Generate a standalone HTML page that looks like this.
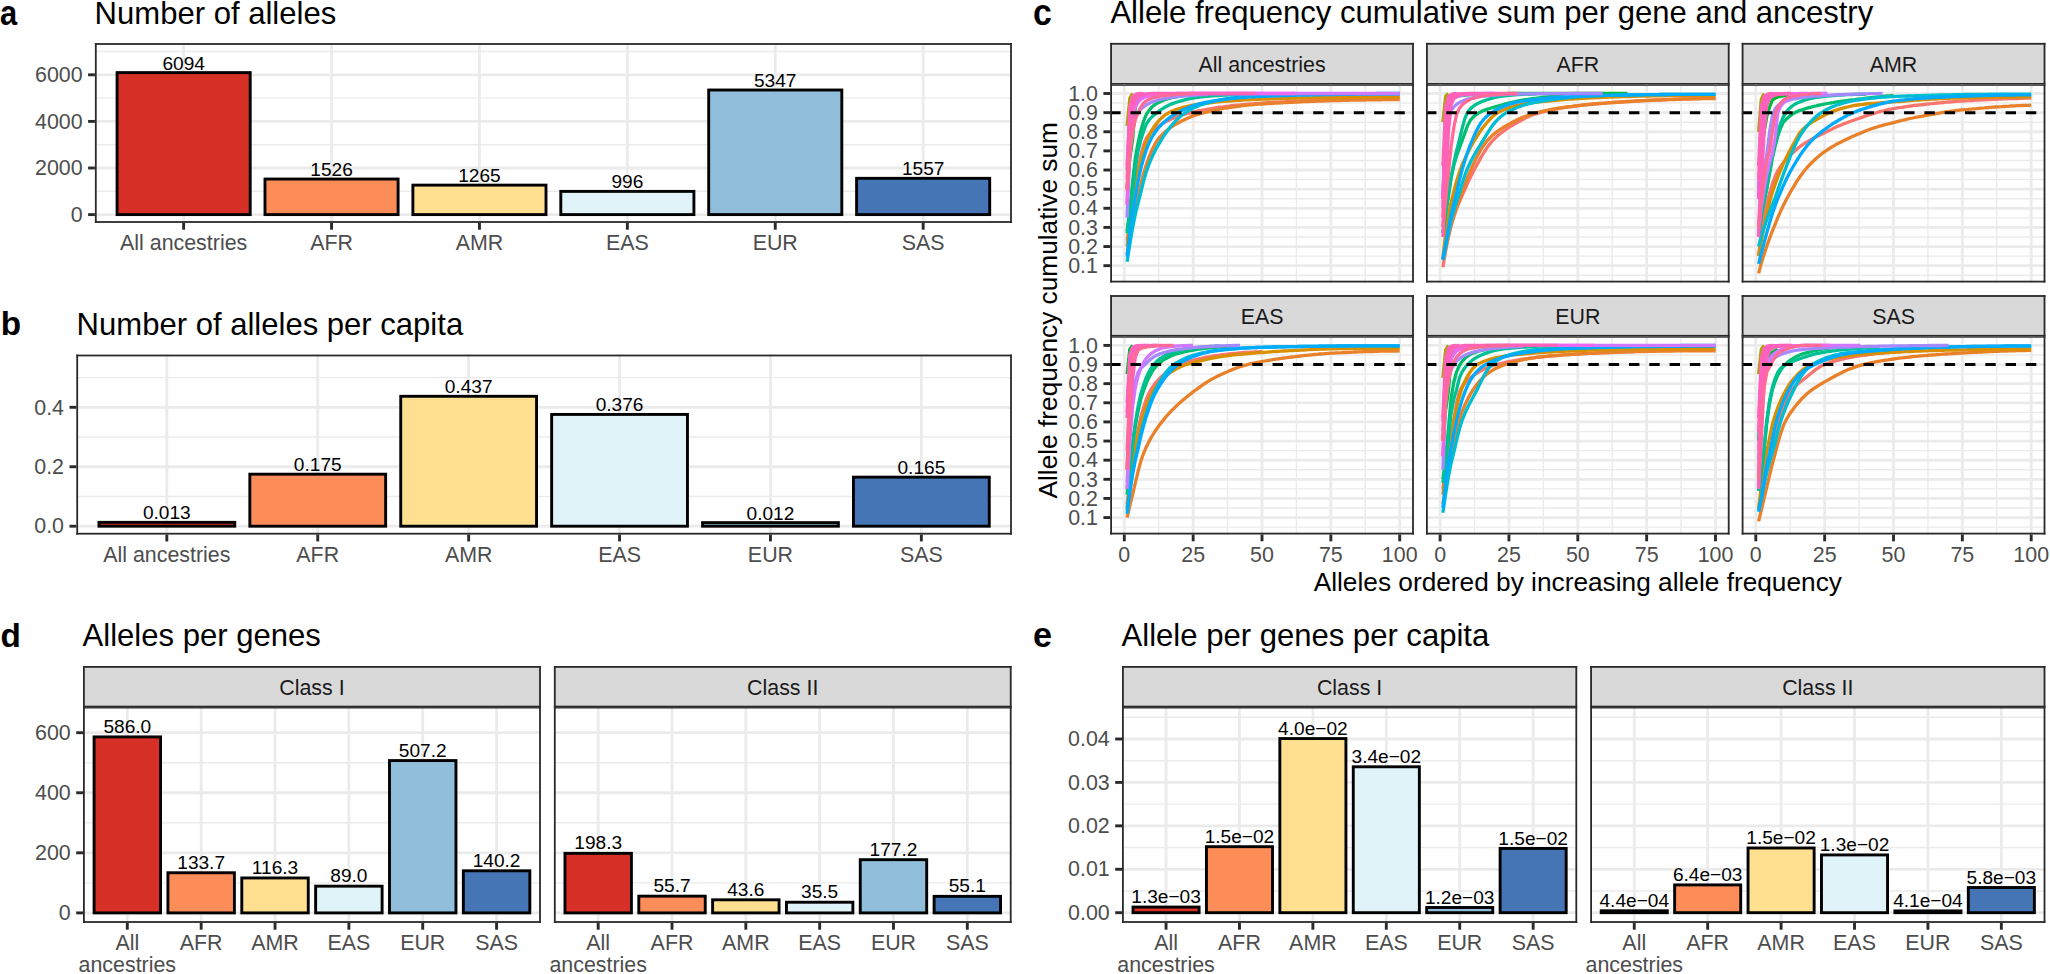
<!DOCTYPE html>
<html lang="en"><head><meta charset="utf-8"><title>HLA allele diversity per ancestry</title>
<style>html,body{margin:0;padding:0;background:#fff}body{width:2050px;height:974px;overflow:hidden}svg{display:block}text{white-space:pre}</style>
</head><body>
<svg width="2050" height="974" viewBox="0 0 2050 974" font-family='"Liberation Sans", Arial, Helvetica, sans-serif'>
<rect width="2050" height="974" fill="#fff"/>
<text transform="translate(0,24.6) scale(0.858,1)" font-size="36" font-weight="bold" fill="#000">a</text>
<text x="94.6" y="24" font-size="31.05" fill="#000" text-anchor="start">Number of alleles</text>
<line x1="94.9" y1="191.3" x2="1011.9" y2="191.3" stroke="#ebebeb" stroke-width="1.4"/>
<line x1="94.9" y1="144.7" x2="1011.9" y2="144.7" stroke="#ebebeb" stroke-width="1.4"/>
<line x1="94.9" y1="98.1" x2="1011.9" y2="98.1" stroke="#ebebeb" stroke-width="1.4"/>
<line x1="94.9" y1="51.5" x2="1011.9" y2="51.5" stroke="#ebebeb" stroke-width="1.4"/>
<line x1="94.9" y1="214.6" x2="1011.9" y2="214.6" stroke="#ebebeb" stroke-width="2.8"/>
<line x1="94.9" y1="168" x2="1011.9" y2="168" stroke="#ebebeb" stroke-width="2.8"/>
<line x1="94.9" y1="121.4" x2="1011.9" y2="121.4" stroke="#ebebeb" stroke-width="2.8"/>
<line x1="94.9" y1="74.8" x2="1011.9" y2="74.8" stroke="#ebebeb" stroke-width="2.8"/>
<line x1="183.64" y1="43.1" x2="183.64" y2="222.9" stroke="#ebebeb" stroke-width="2.8"/>
<line x1="331.55" y1="43.1" x2="331.55" y2="222.9" stroke="#ebebeb" stroke-width="2.8"/>
<line x1="479.45" y1="43.1" x2="479.45" y2="222.9" stroke="#ebebeb" stroke-width="2.8"/>
<line x1="627.35" y1="43.1" x2="627.35" y2="222.9" stroke="#ebebeb" stroke-width="2.8"/>
<line x1="775.25" y1="43.1" x2="775.25" y2="222.9" stroke="#ebebeb" stroke-width="2.8"/>
<line x1="923.16" y1="43.1" x2="923.16" y2="222.9" stroke="#ebebeb" stroke-width="2.8"/>
<rect x="117.09" y="72.61" width="133.11" height="141.99" fill="#d73027" stroke="#000" stroke-width="2.9"/>
<rect x="264.99" y="179.04" width="133.11" height="35.56" fill="#fc8d59" stroke="#000" stroke-width="2.9"/>
<rect x="412.89" y="185.13" width="133.11" height="29.47" fill="#fee090" stroke="#000" stroke-width="2.9"/>
<rect x="560.8" y="191.39" width="133.11" height="23.21" fill="#e0f3f8" stroke="#000" stroke-width="2.9"/>
<rect x="708.7" y="90.01" width="133.11" height="124.59" fill="#91bfdb" stroke="#000" stroke-width="2.9"/>
<rect x="856.6" y="178.32" width="133.11" height="36.28" fill="#4575b4" stroke="#000" stroke-width="2.9"/>
<text x="183.64" y="69.61" font-size="19.1" fill="#000" text-anchor="middle">6094</text>
<text x="331.55" y="176.04" font-size="19.1" fill="#000" text-anchor="middle">1526</text>
<text x="479.45" y="182.13" font-size="19.1" fill="#000" text-anchor="middle">1265</text>
<text x="627.35" y="188.39" font-size="19.1" fill="#000" text-anchor="middle">996</text>
<text x="775.25" y="87.01" font-size="19.1" fill="#000" text-anchor="middle">5347</text>
<text x="923.16" y="175.32" font-size="19.1" fill="#000" text-anchor="middle">1557</text>
<rect x="94.9" y="43.1" width="917" height="1.8" fill="#2a2a2a"/>
<rect x="94.9" y="221.1" width="917" height="1.8" fill="#2a2a2a"/>
<rect x="94.9" y="43.1" width="1.8" height="179.8" fill="#2a2a2a"/>
<rect x="1010.1" y="43.1" width="1.8" height="179.8" fill="#2a2a2a"/>
<line x1="88.1" y1="214.6" x2="94.9" y2="214.6" stroke="#2a2a2a" stroke-width="2.9"/>
<text x="82.6" y="221.8" font-size="21.4" fill="#4d4d4d" text-anchor="end">0</text>
<line x1="88.1" y1="168" x2="94.9" y2="168" stroke="#2a2a2a" stroke-width="2.9"/>
<text x="82.6" y="175.2" font-size="21.4" fill="#4d4d4d" text-anchor="end">2000</text>
<line x1="88.1" y1="121.4" x2="94.9" y2="121.4" stroke="#2a2a2a" stroke-width="2.9"/>
<text x="82.6" y="128.6" font-size="21.4" fill="#4d4d4d" text-anchor="end">4000</text>
<line x1="88.1" y1="74.8" x2="94.9" y2="74.8" stroke="#2a2a2a" stroke-width="2.9"/>
<text x="82.6" y="82" font-size="21.4" fill="#4d4d4d" text-anchor="end">6000</text>
<line x1="183.64" y1="222.9" x2="183.64" y2="229.7" stroke="#2a2a2a" stroke-width="2.9"/>
<text x="183.64" y="250.2" font-size="21.4" fill="#4d4d4d" text-anchor="middle">All ancestries</text>
<line x1="331.55" y1="222.9" x2="331.55" y2="229.7" stroke="#2a2a2a" stroke-width="2.9"/>
<text x="331.55" y="250.2" font-size="21.4" fill="#4d4d4d" text-anchor="middle">AFR</text>
<line x1="479.45" y1="222.9" x2="479.45" y2="229.7" stroke="#2a2a2a" stroke-width="2.9"/>
<text x="479.45" y="250.2" font-size="21.4" fill="#4d4d4d" text-anchor="middle">AMR</text>
<line x1="627.35" y1="222.9" x2="627.35" y2="229.7" stroke="#2a2a2a" stroke-width="2.9"/>
<text x="627.35" y="250.2" font-size="21.4" fill="#4d4d4d" text-anchor="middle">EAS</text>
<line x1="775.25" y1="222.9" x2="775.25" y2="229.7" stroke="#2a2a2a" stroke-width="2.9"/>
<text x="775.25" y="250.2" font-size="21.4" fill="#4d4d4d" text-anchor="middle">EUR</text>
<line x1="923.16" y1="222.9" x2="923.16" y2="229.7" stroke="#2a2a2a" stroke-width="2.9"/>
<text x="923.16" y="250.2" font-size="21.4" fill="#4d4d4d" text-anchor="middle">SAS</text>
<text x="0.8" y="335.1" font-size="33.3" font-weight="bold" fill="#000">b</text>
<text x="76.6" y="334.8" font-size="31.05" fill="#000" text-anchor="start">Number of alleles per capita</text>
<line x1="76.3" y1="496.48" x2="1011.9" y2="496.48" stroke="#ebebeb" stroke-width="1.4"/>
<line x1="76.3" y1="437.03" x2="1011.9" y2="437.03" stroke="#ebebeb" stroke-width="1.4"/>
<line x1="76.3" y1="377.58" x2="1011.9" y2="377.58" stroke="#ebebeb" stroke-width="1.4"/>
<line x1="76.3" y1="526.2" x2="1011.9" y2="526.2" stroke="#ebebeb" stroke-width="2.8"/>
<line x1="76.3" y1="466.75" x2="1011.9" y2="466.75" stroke="#ebebeb" stroke-width="2.8"/>
<line x1="76.3" y1="407.3" x2="1011.9" y2="407.3" stroke="#ebebeb" stroke-width="2.8"/>
<line x1="166.84" y1="354.6" x2="166.84" y2="534.6" stroke="#ebebeb" stroke-width="2.8"/>
<line x1="317.75" y1="354.6" x2="317.75" y2="534.6" stroke="#ebebeb" stroke-width="2.8"/>
<line x1="468.65" y1="354.6" x2="468.65" y2="534.6" stroke="#ebebeb" stroke-width="2.8"/>
<line x1="619.55" y1="354.6" x2="619.55" y2="534.6" stroke="#ebebeb" stroke-width="2.8"/>
<line x1="770.45" y1="354.6" x2="770.45" y2="534.6" stroke="#ebebeb" stroke-width="2.8"/>
<line x1="921.36" y1="354.6" x2="921.36" y2="534.6" stroke="#ebebeb" stroke-width="2.8"/>
<rect x="98.94" y="522.34" width="135.81" height="3.86" fill="#d73027" stroke="#000" stroke-width="2.9"/>
<rect x="249.84" y="474.18" width="135.81" height="52.02" fill="#fc8d59" stroke="#000" stroke-width="2.9"/>
<rect x="400.74" y="396.3" width="135.81" height="129.9" fill="#fee090" stroke="#000" stroke-width="2.9"/>
<rect x="551.65" y="414.43" width="135.81" height="111.77" fill="#e0f3f8" stroke="#000" stroke-width="2.9"/>
<rect x="702.55" y="522.63" width="135.81" height="3.57" fill="#91bfdb" stroke="#000" stroke-width="2.9"/>
<rect x="853.45" y="477.15" width="135.81" height="49.05" fill="#4575b4" stroke="#000" stroke-width="2.9"/>
<text x="166.84" y="519.34" font-size="19.1" fill="#000" text-anchor="middle">0.013</text>
<text x="317.75" y="471.18" font-size="19.1" fill="#000" text-anchor="middle">0.175</text>
<text x="468.65" y="393.3" font-size="19.1" fill="#000" text-anchor="middle">0.437</text>
<text x="619.55" y="411.43" font-size="19.1" fill="#000" text-anchor="middle">0.376</text>
<text x="770.45" y="519.63" font-size="19.1" fill="#000" text-anchor="middle">0.012</text>
<text x="921.36" y="474.15" font-size="19.1" fill="#000" text-anchor="middle">0.165</text>
<rect x="76.3" y="354.6" width="935.6" height="1.8" fill="#2a2a2a"/>
<rect x="76.3" y="532.8" width="935.6" height="1.8" fill="#2a2a2a"/>
<rect x="76.3" y="354.6" width="1.8" height="180" fill="#2a2a2a"/>
<rect x="1010.1" y="354.6" width="1.8" height="180" fill="#2a2a2a"/>
<line x1="69.5" y1="526.2" x2="76.3" y2="526.2" stroke="#2a2a2a" stroke-width="2.9"/>
<text x="64" y="533.4" font-size="21.4" fill="#4d4d4d" text-anchor="end">0.0</text>
<line x1="69.5" y1="466.75" x2="76.3" y2="466.75" stroke="#2a2a2a" stroke-width="2.9"/>
<text x="64" y="473.95" font-size="21.4" fill="#4d4d4d" text-anchor="end">0.2</text>
<line x1="69.5" y1="407.3" x2="76.3" y2="407.3" stroke="#2a2a2a" stroke-width="2.9"/>
<text x="64" y="414.5" font-size="21.4" fill="#4d4d4d" text-anchor="end">0.4</text>
<line x1="166.84" y1="534.6" x2="166.84" y2="541.4" stroke="#2a2a2a" stroke-width="2.9"/>
<text x="166.84" y="561.9" font-size="21.4" fill="#4d4d4d" text-anchor="middle">All ancestries</text>
<line x1="317.75" y1="534.6" x2="317.75" y2="541.4" stroke="#2a2a2a" stroke-width="2.9"/>
<text x="317.75" y="561.9" font-size="21.4" fill="#4d4d4d" text-anchor="middle">AFR</text>
<line x1="468.65" y1="534.6" x2="468.65" y2="541.4" stroke="#2a2a2a" stroke-width="2.9"/>
<text x="468.65" y="561.9" font-size="21.4" fill="#4d4d4d" text-anchor="middle">AMR</text>
<line x1="619.55" y1="534.6" x2="619.55" y2="541.4" stroke="#2a2a2a" stroke-width="2.9"/>
<text x="619.55" y="561.9" font-size="21.4" fill="#4d4d4d" text-anchor="middle">EAS</text>
<line x1="770.45" y1="534.6" x2="770.45" y2="541.4" stroke="#2a2a2a" stroke-width="2.9"/>
<text x="770.45" y="561.9" font-size="21.4" fill="#4d4d4d" text-anchor="middle">EUR</text>
<line x1="921.36" y1="534.6" x2="921.36" y2="541.4" stroke="#2a2a2a" stroke-width="2.9"/>
<text x="921.36" y="561.9" font-size="21.4" fill="#4d4d4d" text-anchor="middle">SAS</text>
<text x="0.6" y="646.8" font-size="33.3" font-weight="bold" fill="#000">d</text>
<text x="82.6" y="645.5" font-size="31.05" fill="#000" text-anchor="start">Alleles per genes</text>
<rect x="83" y="666" width="457.9" height="41.1" fill="#d9d9d9"/>
<rect x="83" y="666" width="457.9" height="1.8" fill="#2a2a2a"/>
<rect x="83" y="705.7" width="457.9" height="1.4" fill="#2a2a2a"/>
<rect x="83" y="666" width="1.8" height="41.1" fill="#2a2a2a"/>
<rect x="539.1" y="666" width="1.8" height="41.1" fill="#2a2a2a"/>
<text x="311.95" y="694.75" font-size="21.4" fill="#1a1a1a" text-anchor="middle">Class I</text>
<rect x="553.9" y="666" width="457.7" height="41.1" fill="#d9d9d9"/>
<rect x="553.9" y="666" width="457.7" height="1.8" fill="#2a2a2a"/>
<rect x="553.9" y="705.7" width="457.7" height="1.4" fill="#2a2a2a"/>
<rect x="553.9" y="666" width="1.8" height="41.1" fill="#2a2a2a"/>
<rect x="1009.8" y="666" width="1.8" height="41.1" fill="#2a2a2a"/>
<text x="782.75" y="694.75" font-size="21.4" fill="#1a1a1a" text-anchor="middle">Class II</text>
<line x1="83" y1="882.87" x2="540.9" y2="882.87" stroke="#ebebeb" stroke-width="1.4"/>
<line x1="83" y1="822.8" x2="540.9" y2="822.8" stroke="#ebebeb" stroke-width="1.4"/>
<line x1="83" y1="762.73" x2="540.9" y2="762.73" stroke="#ebebeb" stroke-width="1.4"/>
<line x1="83" y1="912.9" x2="540.9" y2="912.9" stroke="#ebebeb" stroke-width="2.8"/>
<line x1="83" y1="852.83" x2="540.9" y2="852.83" stroke="#ebebeb" stroke-width="2.8"/>
<line x1="83" y1="792.77" x2="540.9" y2="792.77" stroke="#ebebeb" stroke-width="2.8"/>
<line x1="83" y1="732.7" x2="540.9" y2="732.7" stroke="#ebebeb" stroke-width="2.8"/>
<line x1="127.31" y1="707.1" x2="127.31" y2="922.9" stroke="#ebebeb" stroke-width="2.8"/>
<line x1="201.17" y1="707.1" x2="201.17" y2="922.9" stroke="#ebebeb" stroke-width="2.8"/>
<line x1="275.02" y1="707.1" x2="275.02" y2="922.9" stroke="#ebebeb" stroke-width="2.8"/>
<line x1="348.88" y1="707.1" x2="348.88" y2="922.9" stroke="#ebebeb" stroke-width="2.8"/>
<line x1="422.73" y1="707.1" x2="422.73" y2="922.9" stroke="#ebebeb" stroke-width="2.8"/>
<line x1="496.59" y1="707.1" x2="496.59" y2="922.9" stroke="#ebebeb" stroke-width="2.8"/>
<rect x="94.08" y="736.9" width="66.47" height="176" fill="#d73027" stroke="#000" stroke-width="2.9"/>
<rect x="167.93" y="872.75" width="66.47" height="40.15" fill="#fc8d59" stroke="#000" stroke-width="2.9"/>
<rect x="241.79" y="877.97" width="66.47" height="34.93" fill="#fee090" stroke="#000" stroke-width="2.9"/>
<rect x="315.64" y="886.17" width="66.47" height="26.73" fill="#e0f3f8" stroke="#000" stroke-width="2.9"/>
<rect x="389.5" y="760.57" width="66.47" height="152.33" fill="#91bfdb" stroke="#000" stroke-width="2.9"/>
<rect x="463.35" y="870.79" width="66.47" height="42.11" fill="#4575b4" stroke="#000" stroke-width="2.9"/>
<text x="127.31" y="733" font-size="19.1" fill="#000" text-anchor="middle">586.0</text>
<text x="201.17" y="868.85" font-size="19.1" fill="#000" text-anchor="middle">133.7</text>
<text x="275.02" y="874.07" font-size="19.1" fill="#000" text-anchor="middle">116.3</text>
<text x="348.88" y="882.27" font-size="19.1" fill="#000" text-anchor="middle">89.0</text>
<text x="422.73" y="756.67" font-size="19.1" fill="#000" text-anchor="middle">507.2</text>
<text x="496.59" y="866.89" font-size="19.1" fill="#000" text-anchor="middle">140.2</text>
<rect x="83" y="707.1" width="457.9" height="1.4" fill="#2a2a2a"/>
<rect x="83" y="921.1" width="457.9" height="1.8" fill="#2a2a2a"/>
<rect x="83" y="707.1" width="1.8" height="215.8" fill="#2a2a2a"/>
<rect x="539.1" y="707.1" width="1.8" height="215.8" fill="#2a2a2a"/>
<line x1="76.2" y1="912.9" x2="83" y2="912.9" stroke="#2a2a2a" stroke-width="2.9"/>
<text x="70.7" y="920.1" font-size="21.4" fill="#4d4d4d" text-anchor="end">0</text>
<line x1="76.2" y1="852.83" x2="83" y2="852.83" stroke="#2a2a2a" stroke-width="2.9"/>
<text x="70.7" y="860.03" font-size="21.4" fill="#4d4d4d" text-anchor="end">200</text>
<line x1="76.2" y1="792.77" x2="83" y2="792.77" stroke="#2a2a2a" stroke-width="2.9"/>
<text x="70.7" y="799.97" font-size="21.4" fill="#4d4d4d" text-anchor="end">400</text>
<line x1="76.2" y1="732.7" x2="83" y2="732.7" stroke="#2a2a2a" stroke-width="2.9"/>
<text x="70.7" y="739.9" font-size="21.4" fill="#4d4d4d" text-anchor="end">600</text>
<line x1="127.31" y1="922.9" x2="127.31" y2="929.7" stroke="#2a2a2a" stroke-width="2.9"/>
<text x="127.31" y="950.2" font-size="21.4" fill="#4d4d4d" text-anchor="middle">All</text>
<text x="127.31" y="972.4" font-size="21.4" fill="#4d4d4d" text-anchor="middle">ancestries</text>
<line x1="201.17" y1="922.9" x2="201.17" y2="929.7" stroke="#2a2a2a" stroke-width="2.9"/>
<text x="201.17" y="950.2" font-size="21.4" fill="#4d4d4d" text-anchor="middle">AFR</text>
<line x1="275.02" y1="922.9" x2="275.02" y2="929.7" stroke="#2a2a2a" stroke-width="2.9"/>
<text x="275.02" y="950.2" font-size="21.4" fill="#4d4d4d" text-anchor="middle">AMR</text>
<line x1="348.88" y1="922.9" x2="348.88" y2="929.7" stroke="#2a2a2a" stroke-width="2.9"/>
<text x="348.88" y="950.2" font-size="21.4" fill="#4d4d4d" text-anchor="middle">EAS</text>
<line x1="422.73" y1="922.9" x2="422.73" y2="929.7" stroke="#2a2a2a" stroke-width="2.9"/>
<text x="422.73" y="950.2" font-size="21.4" fill="#4d4d4d" text-anchor="middle">EUR</text>
<line x1="496.59" y1="922.9" x2="496.59" y2="929.7" stroke="#2a2a2a" stroke-width="2.9"/>
<text x="496.59" y="950.2" font-size="21.4" fill="#4d4d4d" text-anchor="middle">SAS</text>
<line x1="553.9" y1="882.87" x2="1011.6" y2="882.87" stroke="#ebebeb" stroke-width="1.4"/>
<line x1="553.9" y1="822.8" x2="1011.6" y2="822.8" stroke="#ebebeb" stroke-width="1.4"/>
<line x1="553.9" y1="762.73" x2="1011.6" y2="762.73" stroke="#ebebeb" stroke-width="1.4"/>
<line x1="553.9" y1="912.9" x2="1011.6" y2="912.9" stroke="#ebebeb" stroke-width="2.8"/>
<line x1="553.9" y1="852.83" x2="1011.6" y2="852.83" stroke="#ebebeb" stroke-width="2.8"/>
<line x1="553.9" y1="792.77" x2="1011.6" y2="792.77" stroke="#ebebeb" stroke-width="2.8"/>
<line x1="553.9" y1="732.7" x2="1011.6" y2="732.7" stroke="#ebebeb" stroke-width="2.8"/>
<line x1="598.19" y1="707.1" x2="598.19" y2="922.9" stroke="#ebebeb" stroke-width="2.8"/>
<line x1="672.02" y1="707.1" x2="672.02" y2="922.9" stroke="#ebebeb" stroke-width="2.8"/>
<line x1="745.84" y1="707.1" x2="745.84" y2="922.9" stroke="#ebebeb" stroke-width="2.8"/>
<line x1="819.66" y1="707.1" x2="819.66" y2="922.9" stroke="#ebebeb" stroke-width="2.8"/>
<line x1="893.48" y1="707.1" x2="893.48" y2="922.9" stroke="#ebebeb" stroke-width="2.8"/>
<line x1="967.31" y1="707.1" x2="967.31" y2="922.9" stroke="#ebebeb" stroke-width="2.8"/>
<rect x="564.97" y="853.34" width="66.44" height="59.56" fill="#d73027" stroke="#000" stroke-width="2.9"/>
<rect x="638.8" y="896.17" width="66.44" height="16.73" fill="#fc8d59" stroke="#000" stroke-width="2.9"/>
<rect x="712.62" y="899.81" width="66.44" height="13.09" fill="#fee090" stroke="#000" stroke-width="2.9"/>
<rect x="786.44" y="902.24" width="66.44" height="10.66" fill="#e0f3f8" stroke="#000" stroke-width="2.9"/>
<rect x="860.26" y="859.68" width="66.44" height="53.22" fill="#91bfdb" stroke="#000" stroke-width="2.9"/>
<rect x="934.09" y="896.35" width="66.44" height="16.55" fill="#4575b4" stroke="#000" stroke-width="2.9"/>
<text x="598.19" y="849.44" font-size="19.1" fill="#000" text-anchor="middle">198.3</text>
<text x="672.02" y="892.27" font-size="19.1" fill="#000" text-anchor="middle">55.7</text>
<text x="745.84" y="895.91" font-size="19.1" fill="#000" text-anchor="middle">43.6</text>
<text x="819.66" y="898.34" font-size="19.1" fill="#000" text-anchor="middle">35.5</text>
<text x="893.48" y="855.78" font-size="19.1" fill="#000" text-anchor="middle">177.2</text>
<text x="967.31" y="892.45" font-size="19.1" fill="#000" text-anchor="middle">55.1</text>
<rect x="553.9" y="707.1" width="457.7" height="1.4" fill="#2a2a2a"/>
<rect x="553.9" y="921.1" width="457.7" height="1.8" fill="#2a2a2a"/>
<rect x="553.9" y="707.1" width="1.8" height="215.8" fill="#2a2a2a"/>
<rect x="1009.8" y="707.1" width="1.8" height="215.8" fill="#2a2a2a"/>
<line x1="598.19" y1="922.9" x2="598.19" y2="929.7" stroke="#2a2a2a" stroke-width="2.9"/>
<text x="598.19" y="950.2" font-size="21.4" fill="#4d4d4d" text-anchor="middle">All</text>
<text x="598.19" y="972.4" font-size="21.4" fill="#4d4d4d" text-anchor="middle">ancestries</text>
<line x1="672.02" y1="922.9" x2="672.02" y2="929.7" stroke="#2a2a2a" stroke-width="2.9"/>
<text x="672.02" y="950.2" font-size="21.4" fill="#4d4d4d" text-anchor="middle">AFR</text>
<line x1="745.84" y1="922.9" x2="745.84" y2="929.7" stroke="#2a2a2a" stroke-width="2.9"/>
<text x="745.84" y="950.2" font-size="21.4" fill="#4d4d4d" text-anchor="middle">AMR</text>
<line x1="819.66" y1="922.9" x2="819.66" y2="929.7" stroke="#2a2a2a" stroke-width="2.9"/>
<text x="819.66" y="950.2" font-size="21.4" fill="#4d4d4d" text-anchor="middle">EAS</text>
<line x1="893.48" y1="922.9" x2="893.48" y2="929.7" stroke="#2a2a2a" stroke-width="2.9"/>
<text x="893.48" y="950.2" font-size="21.4" fill="#4d4d4d" text-anchor="middle">EUR</text>
<line x1="967.31" y1="922.9" x2="967.31" y2="929.7" stroke="#2a2a2a" stroke-width="2.9"/>
<text x="967.31" y="950.2" font-size="21.4" fill="#4d4d4d" text-anchor="middle">SAS</text>
<text transform="translate(1033,647) scale(0.949,1)" font-size="36" font-weight="bold" fill="#000">e</text>
<text x="1121.6" y="645.5" font-size="31.05" fill="#000" text-anchor="start">Allele per genes per capita</text>
<rect x="1122" y="666" width="455.2" height="41.1" fill="#d9d9d9"/>
<rect x="1122" y="666" width="455.2" height="1.8" fill="#2a2a2a"/>
<rect x="1122" y="705.7" width="455.2" height="1.4" fill="#2a2a2a"/>
<rect x="1122" y="666" width="1.8" height="41.1" fill="#2a2a2a"/>
<rect x="1575.4" y="666" width="1.8" height="41.1" fill="#2a2a2a"/>
<text x="1349.6" y="694.75" font-size="21.4" fill="#1a1a1a" text-anchor="middle">Class I</text>
<rect x="1590.2" y="666" width="455.2" height="41.1" fill="#d9d9d9"/>
<rect x="1590.2" y="666" width="455.2" height="1.8" fill="#2a2a2a"/>
<rect x="1590.2" y="705.7" width="455.2" height="1.4" fill="#2a2a2a"/>
<rect x="1590.2" y="666" width="1.8" height="41.1" fill="#2a2a2a"/>
<rect x="2043.6" y="666" width="1.8" height="41.1" fill="#2a2a2a"/>
<text x="1817.8" y="694.75" font-size="21.4" fill="#1a1a1a" text-anchor="middle">Class II</text>
<line x1="1122" y1="890.99" x2="1577.2" y2="890.99" stroke="#ebebeb" stroke-width="1.4"/>
<line x1="1122" y1="847.56" x2="1577.2" y2="847.56" stroke="#ebebeb" stroke-width="1.4"/>
<line x1="1122" y1="804.14" x2="1577.2" y2="804.14" stroke="#ebebeb" stroke-width="1.4"/>
<line x1="1122" y1="760.71" x2="1577.2" y2="760.71" stroke="#ebebeb" stroke-width="1.4"/>
<line x1="1122" y1="717.29" x2="1577.2" y2="717.29" stroke="#ebebeb" stroke-width="1.4"/>
<line x1="1122" y1="912.7" x2="1577.2" y2="912.7" stroke="#ebebeb" stroke-width="2.8"/>
<line x1="1122" y1="869.28" x2="1577.2" y2="869.28" stroke="#ebebeb" stroke-width="2.8"/>
<line x1="1122" y1="825.85" x2="1577.2" y2="825.85" stroke="#ebebeb" stroke-width="2.8"/>
<line x1="1122" y1="782.42" x2="1577.2" y2="782.42" stroke="#ebebeb" stroke-width="2.8"/>
<line x1="1122" y1="739" x2="1577.2" y2="739" stroke="#ebebeb" stroke-width="2.8"/>
<line x1="1166.05" y1="707.1" x2="1166.05" y2="922.9" stroke="#ebebeb" stroke-width="2.8"/>
<line x1="1239.47" y1="707.1" x2="1239.47" y2="922.9" stroke="#ebebeb" stroke-width="2.8"/>
<line x1="1312.89" y1="707.1" x2="1312.89" y2="922.9" stroke="#ebebeb" stroke-width="2.8"/>
<line x1="1386.31" y1="707.1" x2="1386.31" y2="922.9" stroke="#ebebeb" stroke-width="2.8"/>
<line x1="1459.73" y1="707.1" x2="1459.73" y2="922.9" stroke="#ebebeb" stroke-width="2.8"/>
<line x1="1533.15" y1="707.1" x2="1533.15" y2="922.9" stroke="#ebebeb" stroke-width="2.8"/>
<rect x="1133.01" y="907.05" width="66.08" height="5.65" fill="#d73027" stroke="#000" stroke-width="2.9"/>
<rect x="1206.43" y="846.69" width="66.08" height="66.01" fill="#fc8d59" stroke="#000" stroke-width="2.9"/>
<rect x="1279.85" y="738.57" width="66.08" height="174.13" fill="#fee090" stroke="#000" stroke-width="2.9"/>
<rect x="1353.27" y="766.79" width="66.08" height="145.91" fill="#e0f3f8" stroke="#000" stroke-width="2.9"/>
<rect x="1426.69" y="907.49" width="66.08" height="5.21" fill="#91bfdb" stroke="#000" stroke-width="2.9"/>
<rect x="1500.11" y="848.43" width="66.08" height="64.27" fill="#4575b4" stroke="#000" stroke-width="2.9"/>
<text x="1166.05" y="903.15" font-size="19.1" fill="#000" text-anchor="middle">1.3e−03</text>
<text x="1239.47" y="842.79" font-size="19.1" fill="#000" text-anchor="middle">1.5e−02</text>
<text x="1312.89" y="734.67" font-size="19.1" fill="#000" text-anchor="middle">4.0e−02</text>
<text x="1386.31" y="762.89" font-size="19.1" fill="#000" text-anchor="middle">3.4e−02</text>
<text x="1459.73" y="903.59" font-size="19.1" fill="#000" text-anchor="middle">1.2e−03</text>
<text x="1533.15" y="844.53" font-size="19.1" fill="#000" text-anchor="middle">1.5e−02</text>
<rect x="1122" y="707.1" width="455.2" height="1.4" fill="#2a2a2a"/>
<rect x="1122" y="921.1" width="455.2" height="1.8" fill="#2a2a2a"/>
<rect x="1122" y="707.1" width="1.8" height="215.8" fill="#2a2a2a"/>
<rect x="1575.4" y="707.1" width="1.8" height="215.8" fill="#2a2a2a"/>
<line x1="1115.2" y1="912.7" x2="1122" y2="912.7" stroke="#2a2a2a" stroke-width="2.9"/>
<text x="1109.7" y="919.9" font-size="21.4" fill="#4d4d4d" text-anchor="end">0.00</text>
<line x1="1115.2" y1="869.28" x2="1122" y2="869.28" stroke="#2a2a2a" stroke-width="2.9"/>
<text x="1109.7" y="876.48" font-size="21.4" fill="#4d4d4d" text-anchor="end">0.01</text>
<line x1="1115.2" y1="825.85" x2="1122" y2="825.85" stroke="#2a2a2a" stroke-width="2.9"/>
<text x="1109.7" y="833.05" font-size="21.4" fill="#4d4d4d" text-anchor="end">0.02</text>
<line x1="1115.2" y1="782.42" x2="1122" y2="782.42" stroke="#2a2a2a" stroke-width="2.9"/>
<text x="1109.7" y="789.62" font-size="21.4" fill="#4d4d4d" text-anchor="end">0.03</text>
<line x1="1115.2" y1="739" x2="1122" y2="739" stroke="#2a2a2a" stroke-width="2.9"/>
<text x="1109.7" y="746.2" font-size="21.4" fill="#4d4d4d" text-anchor="end">0.04</text>
<line x1="1166.05" y1="922.9" x2="1166.05" y2="929.7" stroke="#2a2a2a" stroke-width="2.9"/>
<text x="1166.05" y="950.2" font-size="21.4" fill="#4d4d4d" text-anchor="middle">All</text>
<text x="1166.05" y="972.4" font-size="21.4" fill="#4d4d4d" text-anchor="middle">ancestries</text>
<line x1="1239.47" y1="922.9" x2="1239.47" y2="929.7" stroke="#2a2a2a" stroke-width="2.9"/>
<text x="1239.47" y="950.2" font-size="21.4" fill="#4d4d4d" text-anchor="middle">AFR</text>
<line x1="1312.89" y1="922.9" x2="1312.89" y2="929.7" stroke="#2a2a2a" stroke-width="2.9"/>
<text x="1312.89" y="950.2" font-size="21.4" fill="#4d4d4d" text-anchor="middle">AMR</text>
<line x1="1386.31" y1="922.9" x2="1386.31" y2="929.7" stroke="#2a2a2a" stroke-width="2.9"/>
<text x="1386.31" y="950.2" font-size="21.4" fill="#4d4d4d" text-anchor="middle">EAS</text>
<line x1="1459.73" y1="922.9" x2="1459.73" y2="929.7" stroke="#2a2a2a" stroke-width="2.9"/>
<text x="1459.73" y="950.2" font-size="21.4" fill="#4d4d4d" text-anchor="middle">EUR</text>
<line x1="1533.15" y1="922.9" x2="1533.15" y2="929.7" stroke="#2a2a2a" stroke-width="2.9"/>
<text x="1533.15" y="950.2" font-size="21.4" fill="#4d4d4d" text-anchor="middle">SAS</text>
<line x1="1590.2" y1="890.99" x2="2045.4" y2="890.99" stroke="#ebebeb" stroke-width="1.4"/>
<line x1="1590.2" y1="847.56" x2="2045.4" y2="847.56" stroke="#ebebeb" stroke-width="1.4"/>
<line x1="1590.2" y1="804.14" x2="2045.4" y2="804.14" stroke="#ebebeb" stroke-width="1.4"/>
<line x1="1590.2" y1="760.71" x2="2045.4" y2="760.71" stroke="#ebebeb" stroke-width="1.4"/>
<line x1="1590.2" y1="717.29" x2="2045.4" y2="717.29" stroke="#ebebeb" stroke-width="1.4"/>
<line x1="1590.2" y1="912.7" x2="2045.4" y2="912.7" stroke="#ebebeb" stroke-width="2.8"/>
<line x1="1590.2" y1="869.28" x2="2045.4" y2="869.28" stroke="#ebebeb" stroke-width="2.8"/>
<line x1="1590.2" y1="825.85" x2="2045.4" y2="825.85" stroke="#ebebeb" stroke-width="2.8"/>
<line x1="1590.2" y1="782.42" x2="2045.4" y2="782.42" stroke="#ebebeb" stroke-width="2.8"/>
<line x1="1590.2" y1="739" x2="2045.4" y2="739" stroke="#ebebeb" stroke-width="2.8"/>
<line x1="1634.25" y1="707.1" x2="1634.25" y2="922.9" stroke="#ebebeb" stroke-width="2.8"/>
<line x1="1707.67" y1="707.1" x2="1707.67" y2="922.9" stroke="#ebebeb" stroke-width="2.8"/>
<line x1="1781.09" y1="707.1" x2="1781.09" y2="922.9" stroke="#ebebeb" stroke-width="2.8"/>
<line x1="1854.51" y1="707.1" x2="1854.51" y2="922.9" stroke="#ebebeb" stroke-width="2.8"/>
<line x1="1927.93" y1="707.1" x2="1927.93" y2="922.9" stroke="#ebebeb" stroke-width="2.8"/>
<line x1="2001.35" y1="707.1" x2="2001.35" y2="922.9" stroke="#ebebeb" stroke-width="2.8"/>
<rect x="1601.21" y="910.79" width="66.08" height="1.91" fill="#d73027" stroke="#000" stroke-width="2.9"/>
<rect x="1674.63" y="884.91" width="66.08" height="27.79" fill="#fc8d59" stroke="#000" stroke-width="2.9"/>
<rect x="1748.05" y="848" width="66.08" height="64.7" fill="#fee090" stroke="#000" stroke-width="2.9"/>
<rect x="1821.47" y="854.94" width="66.08" height="57.76" fill="#e0f3f8" stroke="#000" stroke-width="2.9"/>
<rect x="1894.89" y="910.92" width="66.08" height="1.78" fill="#91bfdb" stroke="#000" stroke-width="2.9"/>
<rect x="1968.31" y="887.51" width="66.08" height="25.19" fill="#4575b4" stroke="#000" stroke-width="2.9"/>
<text x="1634.25" y="906.89" font-size="19.1" fill="#000" text-anchor="middle">4.4e−04</text>
<text x="1707.67" y="881.01" font-size="19.1" fill="#000" text-anchor="middle">6.4e−03</text>
<text x="1781.09" y="844.1" font-size="19.1" fill="#000" text-anchor="middle">1.5e−02</text>
<text x="1854.51" y="851.04" font-size="19.1" fill="#000" text-anchor="middle">1.3e−02</text>
<text x="1927.93" y="907.02" font-size="19.1" fill="#000" text-anchor="middle">4.1e−04</text>
<text x="2001.35" y="883.61" font-size="19.1" fill="#000" text-anchor="middle">5.8e−03</text>
<rect x="1590.2" y="707.1" width="455.2" height="1.4" fill="#2a2a2a"/>
<rect x="1590.2" y="921.1" width="455.2" height="1.8" fill="#2a2a2a"/>
<rect x="1590.2" y="707.1" width="1.8" height="215.8" fill="#2a2a2a"/>
<rect x="2043.6" y="707.1" width="1.8" height="215.8" fill="#2a2a2a"/>
<line x1="1634.25" y1="922.9" x2="1634.25" y2="929.7" stroke="#2a2a2a" stroke-width="2.9"/>
<text x="1634.25" y="950.2" font-size="21.4" fill="#4d4d4d" text-anchor="middle">All</text>
<text x="1634.25" y="972.4" font-size="21.4" fill="#4d4d4d" text-anchor="middle">ancestries</text>
<line x1="1707.67" y1="922.9" x2="1707.67" y2="929.7" stroke="#2a2a2a" stroke-width="2.9"/>
<text x="1707.67" y="950.2" font-size="21.4" fill="#4d4d4d" text-anchor="middle">AFR</text>
<line x1="1781.09" y1="922.9" x2="1781.09" y2="929.7" stroke="#2a2a2a" stroke-width="2.9"/>
<text x="1781.09" y="950.2" font-size="21.4" fill="#4d4d4d" text-anchor="middle">AMR</text>
<line x1="1854.51" y1="922.9" x2="1854.51" y2="929.7" stroke="#2a2a2a" stroke-width="2.9"/>
<text x="1854.51" y="950.2" font-size="21.4" fill="#4d4d4d" text-anchor="middle">EAS</text>
<line x1="1927.93" y1="922.9" x2="1927.93" y2="929.7" stroke="#2a2a2a" stroke-width="2.9"/>
<text x="1927.93" y="950.2" font-size="21.4" fill="#4d4d4d" text-anchor="middle">EUR</text>
<line x1="2001.35" y1="922.9" x2="2001.35" y2="929.7" stroke="#2a2a2a" stroke-width="2.9"/>
<text x="2001.35" y="950.2" font-size="21.4" fill="#4d4d4d" text-anchor="middle">SAS</text>
<text transform="translate(1033,24.6) scale(0.939,1)" font-size="36" font-weight="bold" fill="#000">c</text>
<text x="1110.4" y="23.3" font-size="31.05" fill="#000" text-anchor="start">Allele frequency cumulative sum per gene and ancestry</text>
<defs>
<clipPath id="cp0"><rect x="1110.2" y="84.4" width="303.7" height="198.1"/></clipPath>
<clipPath id="cp1"><rect x="1426" y="84.4" width="303.6" height="198.1"/></clipPath>
<clipPath id="cp2"><rect x="1741.7" y="84.4" width="303.7" height="198.1"/></clipPath>
<clipPath id="cp3"><rect x="1110.2" y="336.3" width="303.7" height="198.2"/></clipPath>
<clipPath id="cp4"><rect x="1426" y="336.3" width="303.6" height="198.2"/></clipPath>
<clipPath id="cp5"><rect x="1741.7" y="336.3" width="303.7" height="198.2"/></clipPath>
</defs>
<rect x="1110.2" y="42.9" width="303.7" height="41.5" fill="#d9d9d9"/>
<rect x="1110.2" y="42.9" width="303.7" height="1.8" fill="#2a2a2a"/>
<rect x="1110.2" y="83" width="303.7" height="1.4" fill="#2a2a2a"/>
<rect x="1110.2" y="42.9" width="1.8" height="41.5" fill="#2a2a2a"/>
<rect x="1412.1" y="42.9" width="1.8" height="41.5" fill="#2a2a2a"/>
<text x="1262.05" y="71.85" font-size="21.4" fill="#1a1a1a" text-anchor="middle">All ancestries</text>
<line x1="1110.2" y1="275.24" x2="1413.9" y2="275.24" stroke="#ebebeb" stroke-width="1.4"/>
<line x1="1110.2" y1="256.11" x2="1413.9" y2="256.11" stroke="#ebebeb" stroke-width="1.4"/>
<line x1="1110.2" y1="236.98" x2="1413.9" y2="236.98" stroke="#ebebeb" stroke-width="1.4"/>
<line x1="1110.2" y1="217.84" x2="1413.9" y2="217.84" stroke="#ebebeb" stroke-width="1.4"/>
<line x1="1110.2" y1="198.72" x2="1413.9" y2="198.72" stroke="#ebebeb" stroke-width="1.4"/>
<line x1="1110.2" y1="179.58" x2="1413.9" y2="179.58" stroke="#ebebeb" stroke-width="1.4"/>
<line x1="1110.2" y1="160.45" x2="1413.9" y2="160.45" stroke="#ebebeb" stroke-width="1.4"/>
<line x1="1110.2" y1="141.32" x2="1413.9" y2="141.32" stroke="#ebebeb" stroke-width="1.4"/>
<line x1="1110.2" y1="122.19" x2="1413.9" y2="122.19" stroke="#ebebeb" stroke-width="1.4"/>
<line x1="1110.2" y1="103.06" x2="1413.9" y2="103.06" stroke="#ebebeb" stroke-width="1.4"/>
<line x1="1158.72" y1="84.4" x2="1158.72" y2="282.5" stroke="#ebebeb" stroke-width="1.4"/>
<line x1="1227.58" y1="84.4" x2="1227.58" y2="282.5" stroke="#ebebeb" stroke-width="1.4"/>
<line x1="1296.42" y1="84.4" x2="1296.42" y2="282.5" stroke="#ebebeb" stroke-width="1.4"/>
<line x1="1365.27" y1="84.4" x2="1365.27" y2="282.5" stroke="#ebebeb" stroke-width="1.4"/>
<line x1="1110.2" y1="265.67" x2="1413.9" y2="265.67" stroke="#ebebeb" stroke-width="2.8"/>
<line x1="1110.2" y1="246.54" x2="1413.9" y2="246.54" stroke="#ebebeb" stroke-width="2.8"/>
<line x1="1110.2" y1="227.41" x2="1413.9" y2="227.41" stroke="#ebebeb" stroke-width="2.8"/>
<line x1="1110.2" y1="208.28" x2="1413.9" y2="208.28" stroke="#ebebeb" stroke-width="2.8"/>
<line x1="1110.2" y1="189.15" x2="1413.9" y2="189.15" stroke="#ebebeb" stroke-width="2.8"/>
<line x1="1110.2" y1="170.02" x2="1413.9" y2="170.02" stroke="#ebebeb" stroke-width="2.8"/>
<line x1="1110.2" y1="150.89" x2="1413.9" y2="150.89" stroke="#ebebeb" stroke-width="2.8"/>
<line x1="1110.2" y1="131.76" x2="1413.9" y2="131.76" stroke="#ebebeb" stroke-width="2.8"/>
<line x1="1110.2" y1="112.63" x2="1413.9" y2="112.63" stroke="#ebebeb" stroke-width="2.8"/>
<line x1="1110.2" y1="93.5" x2="1413.9" y2="93.5" stroke="#ebebeb" stroke-width="2.8"/>
<line x1="1124.3" y1="84.4" x2="1124.3" y2="282.5" stroke="#ebebeb" stroke-width="2.8"/>
<line x1="1193.15" y1="84.4" x2="1193.15" y2="282.5" stroke="#ebebeb" stroke-width="2.8"/>
<line x1="1262" y1="84.4" x2="1262" y2="282.5" stroke="#ebebeb" stroke-width="2.8"/>
<line x1="1330.85" y1="84.4" x2="1330.85" y2="282.5" stroke="#ebebeb" stroke-width="2.8"/>
<line x1="1399.7" y1="84.4" x2="1399.7" y2="282.5" stroke="#ebebeb" stroke-width="2.8"/>
<g clip-path="url(#cp0)" fill="none" stroke-width="3.3" stroke-linejoin="round" stroke-linecap="butt">
<path d="M1127.1 240.8L1129.8 219.9L1132.6 201.6L1135.3 184.7L1138.1 169.4L1140.8 155.7L1143.6 144.9L1146.3 138.5L1149.1 134.5L1151.8 131.5L1154.6 129.1L1157.3 127.0L1160.1 125.1L1162.9 123.4L1165.6 121.8L1168.4 120.4L1171.1 119.1L1173.9 118.0L1176.6 116.9L1179.4 115.9L1182.1 115.0L1184.9 114.2L1187.6 113.5L1190.4 112.8L1193.1 112.1L1195.9 111.5L1198.7 110.9L1201.4 110.3L1204.2 109.8L1206.9 109.3L1209.7 108.8L1212.4 108.4L1215.2 107.9L1217.9 107.5L1220.7 107.1L1223.4 106.8L1226.2 106.4L1229.0 106.1L1231.7 105.7L1234.5 105.4L1237.2 105.1L1240.0 104.9L1242.7 104.6L1245.5 104.3L1248.2 104.1L1251.0 103.9L1253.7 103.7L1256.5 103.4L1259.2 103.3L1262.0 103.1L1264.8 102.9L1267.5 102.7L1270.3 102.5L1273.0 102.4L1275.8 102.2L1278.5 102.1L1281.3 101.9L1284.0 101.8L1286.8 101.6L1289.5 101.5L1292.3 101.4L1295.0 101.2L1297.8 101.1L1300.6 101.0L1303.3 100.8L1306.1 100.7L1308.8 100.6L1311.6 100.5L1314.3 100.4L1317.1 100.3L1319.8 100.2L1322.6 100.1L1325.3 100.0L1328.1 99.9L1330.8 99.8L1333.6 99.7L1336.4 99.6L1339.1 99.6L1341.9 99.5L1344.6 99.4L1347.4 99.3L1350.1 99.3L1352.9 99.2L1355.6 99.1L1358.4 99.0L1361.1 99.0L1363.9 98.9L1366.7 98.9L1369.4 98.8L1372.2 98.7L1374.9 98.7L1377.7 98.6L1380.4 98.6L1383.2 98.5L1385.9 98.5L1388.7 98.4L1391.4 98.4L1394.2 98.4L1396.9 98.3L1399.7 98.3" stroke="#F8766D"/>
<path d="M1127.1 254.2L1129.8 237.5L1132.6 221.1L1135.3 207.8L1138.1 196.7L1140.8 184.5L1143.6 173.5L1146.3 164.8L1149.1 157.0L1151.8 150.3L1154.6 144.7L1157.3 140.4L1160.1 136.9L1162.9 134.0L1165.6 131.4L1168.4 129.2L1171.1 127.2L1173.9 125.4L1176.6 123.7L1179.4 122.2L1182.1 120.8L1184.9 119.4L1187.6 118.2L1190.4 117.0L1193.1 115.9L1195.9 115.0L1198.7 114.1L1201.4 113.3L1204.2 112.6L1206.9 111.9L1209.7 111.3L1212.4 110.6L1215.2 110.1L1217.9 109.5L1220.7 109.0L1223.4 108.5L1226.2 108.0L1229.0 107.6L1231.7 107.2L1234.5 106.8L1237.2 106.4L1240.0 106.1L1242.7 105.7L1245.5 105.4L1248.2 105.2L1251.0 104.9L1253.7 104.7L1256.5 104.4L1259.2 104.2L1262.0 104.0L1264.8 103.8L1267.5 103.7L1270.3 103.5L1273.0 103.3L1275.8 103.2L1278.5 103.0L1281.3 102.8L1284.0 102.7L1286.8 102.5L1289.5 102.4L1292.3 102.3L1295.0 102.1L1297.8 102.0L1300.6 101.9L1303.3 101.7L1306.1 101.6L1308.8 101.5L1311.6 101.4L1314.3 101.3L1317.1 101.2L1319.8 101.1L1322.6 101.0L1325.3 100.9L1328.1 100.8L1330.8 100.7L1333.6 100.7L1336.4 100.6L1339.1 100.5L1341.9 100.4L1344.6 100.4L1347.4 100.3L1350.1 100.2L1352.9 100.2L1355.6 100.1L1358.4 100.1L1361.1 100.0L1363.9 100.0L1366.7 99.9L1369.4 99.9L1372.2 99.9L1374.9 99.8L1377.7 99.8L1380.4 99.8L1383.2 99.7L1385.9 99.7L1388.7 99.7L1391.4 99.7L1394.2 99.6L1396.9 99.6L1399.7 99.6" stroke="#E9812A"/>
<path d="M1127.1 246.5L1129.8 222.4L1132.6 203.3L1135.3 186.8L1138.1 172.0L1140.8 160.2L1143.6 150.2L1146.3 142.1L1149.1 135.6L1151.8 130.3L1154.6 126.0L1157.3 122.5L1160.1 119.4L1162.9 116.7L1165.6 114.6L1168.4 112.9L1171.1 111.6L1173.9 110.4L1176.6 109.4L1179.4 108.5L1182.1 107.7L1184.9 106.9L1187.6 106.3L1190.4 105.7L1193.1 105.1L1195.9 104.6L1198.7 104.2L1201.4 103.8L1204.2 103.4L1206.9 103.1L1209.7 102.8L1212.4 102.5L1215.2 102.2L1217.9 101.9L1220.7 101.7L1223.4 101.4L1226.2 101.2L1229.0 101.0L1231.7 100.8L1234.5 100.6L1237.2 100.4L1240.0 100.3L1242.7 100.1L1245.5 99.9L1248.2 99.8L1251.0 99.7L1253.7 99.5L1256.5 99.4L1259.2 99.3L1262.0 99.2L1264.8 99.1L1267.5 99.0L1270.3 98.9L1273.0 98.8L1275.8 98.7L1278.5 98.6L1281.3 98.5L1284.0 98.4L1286.8 98.4L1289.5 98.3L1292.3 98.2L1295.0 98.1L1297.8 98.1L1300.6 98.0L1303.3 98.0L1306.1 97.9L1308.8 97.8L1311.6 97.8L1314.3 97.7L1317.1 97.7L1319.8 97.6L1322.6 97.6L1325.3 97.5L1328.1 97.5L1330.8 97.4L1333.6 97.4L1336.4 97.4L1339.1 97.3L1341.9 97.3L1344.6 97.2L1347.4 97.2L1350.1 97.2L1352.9 97.1L1355.6 97.1L1358.4 97.1L1361.1 97.0L1363.9 97.0L1366.7 97.0L1369.4 97.0L1372.2 96.9L1374.9 96.9L1377.7 96.9L1380.4 96.9L1383.2 96.9L1385.9 96.8L1388.7 96.8L1391.4 96.8L1394.2 96.8L1396.9 96.8L1399.7 96.8" stroke="#DA8F00"/>
<path d="M1127.1 126.0L1129.8 98.3L1132.6 93.5" stroke="#A9A400"/>
<path d="M1127.1 189.2L1129.8 158.5L1132.6 139.4L1135.3 106.9L1138.1 100.2L1140.8 98.1L1143.6 97.3" stroke="#00BA38"/>
<path d="M1127.1 231.2L1129.8 209.6L1132.6 181.9L1135.3 158.3L1138.1 142.5L1140.8 130.7L1143.6 121.2L1146.3 114.5L1149.1 110.3L1151.8 107.2L1154.6 104.8L1157.3 103.1L1160.1 101.7L1162.9 100.5L1165.6 99.4L1168.4 98.6L1171.1 97.8L1173.9 97.2L1176.6 96.8L1179.4 96.4L1182.1 96.0L1184.9 95.7L1187.6 95.5L1190.4 95.2L1193.1 95.0L1195.9 94.7L1198.7 94.6L1201.4 94.4L1204.2 94.3L1206.9 94.1L1209.7 94.0L1212.4 94.0L1215.2 93.9L1217.9 93.9L1220.7 93.9" stroke="#00BE6D"/>
<path d="M1127.1 233.1L1129.8 212.5L1132.6 191.2L1135.3 168.8L1138.1 150.9L1140.8 140.0L1143.6 131.2L1146.3 124.1L1149.1 120.0L1151.8 117.0L1154.6 114.6L1157.3 112.4L1160.1 110.4L1162.9 108.5L1165.6 106.8L1168.4 105.4L1171.1 104.1L1173.9 103.1L1176.6 102.2L1179.4 101.3L1182.1 100.6L1184.9 99.9L1187.6 99.2L1190.4 98.7L1193.1 98.1L1195.9 97.7L1198.7 97.3L1201.4 96.9L1204.2 96.6L1206.9 96.4L1209.7 96.1L1212.4 95.9L1215.2 95.7L1217.9 95.5L1220.7 95.3L1223.4 95.1L1226.2 95.0L1229.0 94.8L1231.7 94.7L1234.5 94.6L1237.2 94.4L1240.0 94.3L1242.7 94.2L1245.5 94.2L1248.2 94.1L1251.0 94.0L1253.7 94.0L1256.5 93.9L1259.2 93.9L1262.0 93.9" stroke="#00C094"/>
<path d="M1127.1 261.7L1129.8 244.5L1132.6 227.9L1135.3 214.2L1138.1 203.0L1140.8 192.5L1143.6 181.2L1146.3 171.6L1149.1 164.1L1151.8 157.5L1154.6 151.8L1157.3 146.6L1160.1 141.8L1162.9 137.4L1165.6 133.2L1168.4 129.4L1171.1 126.0L1173.9 122.9L1176.6 120.0L1179.4 117.3L1182.1 115.0L1184.9 113.0L1187.6 111.3L1190.4 109.7L1193.1 108.3L1195.9 107.0L1198.7 105.8L1201.4 104.8L1204.2 103.9L1206.9 103.1L1209.7 102.3L1212.4 101.7L1215.2 101.0L1217.9 100.4L1220.7 99.9L1223.4 99.4L1226.2 98.9L1229.0 98.4L1231.7 98.0L1234.5 97.7L1237.2 97.3L1240.0 97.0L1242.7 96.8L1245.5 96.6L1248.2 96.4L1251.0 96.2L1253.7 96.0L1256.5 95.9L1259.2 95.7L1262.0 95.6L1264.8 95.5L1267.5 95.3L1270.3 95.2L1273.0 95.1L1275.8 95.0L1278.5 94.9L1281.3 94.8L1284.0 94.8L1286.8 94.7L1289.5 94.6L1292.3 94.5L1295.0 94.5L1297.8 94.4L1300.6 94.3L1303.3 94.3L1306.1 94.2L1308.8 94.2L1311.6 94.1L1314.3 94.1L1317.1 94.1L1319.8 94.0L1322.6 94.0L1325.3 94.0L1328.1 93.9L1330.8 93.9L1333.6 93.9L1336.4 93.8L1339.1 93.8L1341.9 93.8L1344.6 93.8L1347.4 93.7L1350.1 93.7L1352.9 93.7L1355.6 93.7L1358.4 93.7L1361.1 93.6L1363.9 93.6L1366.7 93.6L1369.4 93.6L1372.2 93.6L1374.9 93.6L1377.7 93.5L1380.4 93.5L1383.2 93.5L1385.9 93.5L1388.7 93.5L1391.4 93.5L1394.2 93.5L1396.9 93.5L1399.7 93.5" stroke="#00BDD2"/>
<path d="M1127.1 256.7L1129.8 232.7L1132.6 212.8L1135.3 197.1L1138.1 181.3L1140.8 168.5L1143.6 158.3L1146.3 149.8L1149.1 142.9L1151.8 137.4L1154.6 133.0L1157.3 129.2L1160.1 126.0L1162.9 123.2L1165.6 120.8L1168.4 118.6L1171.1 116.6L1173.9 114.8L1176.6 113.2L1179.4 111.8L1182.1 110.4L1184.9 109.1L1187.6 107.9L1190.4 106.8L1193.1 105.8L1195.9 104.9L1198.7 104.1L1201.4 103.3L1204.2 102.7L1206.9 102.1L1209.7 101.6L1212.4 101.1L1215.2 100.7L1217.9 100.3L1220.7 99.9L1223.4 99.5L1226.2 99.1L1229.0 98.8L1231.7 98.5L1234.5 98.2L1237.2 98.0L1240.0 97.7L1242.7 97.5L1245.5 97.3L1248.2 97.1L1251.0 96.9L1253.7 96.8L1256.5 96.6L1259.2 96.5L1262.0 96.4L1264.8 96.3L1267.5 96.2L1270.3 96.1L1273.0 96.0L1275.8 95.9L1278.5 95.8L1281.3 95.7L1284.0 95.6L1286.8 95.5L1289.5 95.5L1292.3 95.4L1295.0 95.3L1297.8 95.2L1300.6 95.2L1303.3 95.1L1306.1 95.0L1308.8 95.0L1311.6 94.9L1314.3 94.9L1317.1 94.8L1319.8 94.8L1322.6 94.7L1325.3 94.7L1328.1 94.6L1330.8 94.6L1333.6 94.5L1336.4 94.5L1339.1 94.4L1341.9 94.4L1344.6 94.4L1347.4 94.3L1350.1 94.3L1352.9 94.3L1355.6 94.3L1358.4 94.2L1361.1 94.2L1363.9 94.2L1366.7 94.2L1369.4 94.2L1372.2 94.1L1374.9 94.1L1377.7 94.1L1380.4 94.1L1383.2 94.1L1385.9 94.1L1388.7 94.1L1391.4 94.1L1394.2 94.1L1396.9 94.1L1399.7 94.1" stroke="#00ABFD"/>
<path d="M1127.1 217.8L1129.8 150.9L1132.6 127.9L1135.3 118.1L1138.1 112.6L1140.8 109.2L1143.6 106.8L1146.3 105.0L1149.1 103.4L1151.8 102.1L1154.6 101.1L1157.3 100.2L1160.1 99.5L1162.9 98.9L1165.6 98.3L1168.4 97.8L1171.1 97.4L1173.9 97.0L1176.6 96.7L1179.4 96.4L1182.1 96.1L1184.9 95.8L1187.6 95.6L1190.4 95.4L1193.1 95.2L1195.9 95.0L1198.7 94.9L1201.4 94.7L1204.2 94.6L1206.9 94.5" stroke="#A58AFF"/>
<path d="M1127.1 204.5L1129.8 131.8L1132.6 106.9L1135.3 100.1L1138.1 97.3L1140.8 96.2L1143.6 95.5L1146.3 95.0L1149.1 94.7L1151.8 94.5L1154.6 94.3L1157.3 94.2L1160.1 94.1L1162.9 94.0L1165.6 93.9L1168.4 93.8L1171.1 93.8L1173.9 93.7L1176.6 93.7L1179.4 93.7L1182.1 93.6L1184.9 93.6L1187.6 93.6L1190.4 93.5L1193.1 93.5L1195.9 93.5L1198.7 93.5L1201.4 93.5L1204.2 93.5L1206.9 93.5L1209.7 93.5L1212.4 93.5L1215.2 93.5L1217.9 93.5L1220.7 93.5L1223.4 93.5L1226.2 93.5L1229.0 93.5L1231.7 93.5L1234.5 93.5L1237.2 93.5L1240.0 93.5L1242.7 93.5L1245.5 93.5L1248.2 93.5L1251.0 93.5L1253.7 93.5L1256.5 93.5L1259.2 93.5L1262.0 93.5L1264.8 93.5L1267.5 93.5L1270.3 93.5L1273.0 93.5L1275.8 93.5L1278.5 93.5L1281.3 93.5L1284.0 93.5L1286.8 93.5L1289.5 93.5L1292.3 93.5L1295.0 93.5L1297.8 93.5L1300.6 93.5L1303.3 93.5L1306.1 93.5L1308.8 93.5L1311.6 93.5L1314.3 93.5L1317.1 93.5L1319.8 93.5L1322.6 93.5L1325.3 93.5L1328.1 93.5L1330.8 93.5L1333.6 93.5L1336.4 93.5L1339.1 93.5L1341.9 93.5L1344.6 93.5L1347.4 93.5L1350.1 93.5L1352.9 93.5L1355.6 93.5L1358.4 93.5L1361.1 93.5L1363.9 93.5L1366.7 93.5L1369.4 93.5L1372.2 93.5L1374.9 93.5L1377.7 93.5L1380.4 93.5L1383.2 93.5L1385.9 93.5L1388.7 93.5L1391.4 93.5L1394.2 93.5L1396.9 93.5L1399.7 93.5" stroke="#D078FF"/>
<path d="M1127.1 204.5L1129.8 141.3L1132.6 116.5L1135.3 106.9L1138.1 102.0L1140.8 99.2L1143.6 97.7L1146.3 96.7L1149.1 95.9L1151.8 95.4L1154.6 95.0L1157.3 94.7L1160.1 94.4L1162.9 94.1L1165.6 93.9L1168.4 93.8L1171.1 93.6L1173.9 93.6L1176.6 93.5L1179.4 93.5L1182.1 93.5L1184.9 93.5L1187.6 93.5L1190.4 93.5L1193.1 93.5L1195.9 93.5L1198.7 93.5L1201.4 93.5L1204.2 93.5L1206.9 93.5L1209.7 93.5L1212.4 93.5L1215.2 93.5L1217.9 93.5L1220.7 93.5L1223.4 93.5L1226.2 93.5L1229.0 93.5L1231.7 93.5L1234.5 93.5L1237.2 93.5L1240.0 93.5L1242.7 93.5L1245.5 93.5L1248.2 93.5L1251.0 93.5L1253.7 93.5L1256.5 93.5L1259.2 93.5L1262.0 93.5L1264.8 93.5L1267.5 93.5L1270.3 93.5L1273.0 93.5L1275.8 93.5L1278.5 93.5L1281.3 93.5L1284.0 93.5L1286.8 93.5L1289.5 93.5L1292.3 93.5L1295.0 93.5" stroke="#EC69EF"/>
<path d="M1127.1 170.0L1129.8 112.6L1132.6 99.2L1135.3 95.7L1138.1 94.0L1140.8 93.5" stroke="#FB61D7"/>
<path d="M1127.1 179.6L1129.8 116.5L1132.6 101.2L1135.3 96.4L1138.1 94.5L1140.8 93.7L1143.6 93.5" stroke="#FB61D7"/>
<path d="M1127.1 191.1L1129.8 126.0L1132.6 106.9L1135.3 99.5L1138.1 96.4L1140.8 95.2L1143.6 94.4L1146.3 93.9L1149.1 93.6L1151.8 93.5L1154.6 93.5L1157.3 93.5L1160.1 93.5L1162.9 93.5L1165.6 93.5L1168.4 93.5L1171.1 93.5L1173.9 93.5L1176.6 93.5L1179.4 93.5L1182.1 93.5L1184.9 93.5L1187.6 93.5L1190.4 93.5L1193.1 93.5L1195.9 93.5L1198.7 93.5L1201.4 93.5L1204.2 93.5L1206.9 93.5L1209.7 93.5L1212.4 93.5L1215.2 93.5L1217.9 93.5L1220.7 93.5L1223.4 93.5L1226.2 93.5L1229.0 93.5L1231.7 93.5L1234.5 93.5L1237.2 93.5L1240.0 93.5L1242.7 93.5L1245.5 93.5L1248.2 93.5L1251.0 93.5L1253.7 93.5L1256.5 93.5" stroke="#FF63B9"/>
<path d="M1127.1 189.2L1129.8 139.4L1132.6 106.9L1135.3 98.3L1138.1 95.5L1140.8 94.0L1143.6 93.5" stroke="#FF63B9"/>
<path d="M1127.1 166.2L1129.8 106.9L1132.6 96.4L1135.3 94.5L1138.1 93.7L1140.8 93.5" stroke="#FF63B9"/>
<path d="M1127.1 189.2L1129.8 154.7L1132.6 131.8L1135.3 119.3L1138.1 112.6L1140.8 107.0L1143.6 103.1L1146.3 100.9L1149.1 99.4L1151.8 98.3L1154.6 97.4L1157.3 96.8L1160.1 96.2L1162.9 95.8L1165.6 95.4L1168.4 95.1L1171.1 94.8L1173.9 94.6L1176.6 94.3L1179.4 94.1L1182.1 94.0L1184.9 93.8L1187.6 93.7L1190.4 93.6L1193.1 93.5" stroke="#FF6B96"/>
<line x1="1110.2" y1="112.63" x2="1413.9" y2="112.63" stroke="#000" stroke-width="3.0" stroke-dasharray="10.4 9.9"/>
</g>
<rect x="1110.2" y="84.4" width="303.7" height="1.4" fill="#2a2a2a"/>
<rect x="1110.2" y="280.7" width="303.7" height="1.8" fill="#2a2a2a"/>
<rect x="1110.2" y="84.4" width="1.8" height="198.1" fill="#2a2a2a"/>
<rect x="1412.1" y="84.4" width="1.8" height="198.1" fill="#2a2a2a"/>
<line x1="1103.4" y1="265.67" x2="1110.2" y2="265.67" stroke="#2a2a2a" stroke-width="2.9"/>
<text x="1097.9" y="272.87" font-size="21.4" fill="#4d4d4d" text-anchor="end">0.1</text>
<line x1="1103.4" y1="246.54" x2="1110.2" y2="246.54" stroke="#2a2a2a" stroke-width="2.9"/>
<text x="1097.9" y="253.74" font-size="21.4" fill="#4d4d4d" text-anchor="end">0.2</text>
<line x1="1103.4" y1="227.41" x2="1110.2" y2="227.41" stroke="#2a2a2a" stroke-width="2.9"/>
<text x="1097.9" y="234.61" font-size="21.4" fill="#4d4d4d" text-anchor="end">0.3</text>
<line x1="1103.4" y1="208.28" x2="1110.2" y2="208.28" stroke="#2a2a2a" stroke-width="2.9"/>
<text x="1097.9" y="215.48" font-size="21.4" fill="#4d4d4d" text-anchor="end">0.4</text>
<line x1="1103.4" y1="189.15" x2="1110.2" y2="189.15" stroke="#2a2a2a" stroke-width="2.9"/>
<text x="1097.9" y="196.35" font-size="21.4" fill="#4d4d4d" text-anchor="end">0.5</text>
<line x1="1103.4" y1="170.02" x2="1110.2" y2="170.02" stroke="#2a2a2a" stroke-width="2.9"/>
<text x="1097.9" y="177.22" font-size="21.4" fill="#4d4d4d" text-anchor="end">0.6</text>
<line x1="1103.4" y1="150.89" x2="1110.2" y2="150.89" stroke="#2a2a2a" stroke-width="2.9"/>
<text x="1097.9" y="158.09" font-size="21.4" fill="#4d4d4d" text-anchor="end">0.7</text>
<line x1="1103.4" y1="131.76" x2="1110.2" y2="131.76" stroke="#2a2a2a" stroke-width="2.9"/>
<text x="1097.9" y="138.96" font-size="21.4" fill="#4d4d4d" text-anchor="end">0.8</text>
<line x1="1103.4" y1="112.63" x2="1110.2" y2="112.63" stroke="#2a2a2a" stroke-width="2.9"/>
<text x="1097.9" y="119.83" font-size="21.4" fill="#4d4d4d" text-anchor="end">0.9</text>
<line x1="1103.4" y1="93.5" x2="1110.2" y2="93.5" stroke="#2a2a2a" stroke-width="2.9"/>
<text x="1097.9" y="100.7" font-size="21.4" fill="#4d4d4d" text-anchor="end">1.0</text>
<rect x="1426" y="42.9" width="303.6" height="41.5" fill="#d9d9d9"/>
<rect x="1426" y="42.9" width="303.6" height="1.8" fill="#2a2a2a"/>
<rect x="1426" y="83" width="303.6" height="1.4" fill="#2a2a2a"/>
<rect x="1426" y="42.9" width="1.8" height="41.5" fill="#2a2a2a"/>
<rect x="1727.8" y="42.9" width="1.8" height="41.5" fill="#2a2a2a"/>
<text x="1577.8" y="71.85" font-size="21.4" fill="#1a1a1a" text-anchor="middle">AFR</text>
<line x1="1426" y1="275.24" x2="1729.6" y2="275.24" stroke="#ebebeb" stroke-width="1.4"/>
<line x1="1426" y1="256.11" x2="1729.6" y2="256.11" stroke="#ebebeb" stroke-width="1.4"/>
<line x1="1426" y1="236.98" x2="1729.6" y2="236.98" stroke="#ebebeb" stroke-width="1.4"/>
<line x1="1426" y1="217.84" x2="1729.6" y2="217.84" stroke="#ebebeb" stroke-width="1.4"/>
<line x1="1426" y1="198.72" x2="1729.6" y2="198.72" stroke="#ebebeb" stroke-width="1.4"/>
<line x1="1426" y1="179.58" x2="1729.6" y2="179.58" stroke="#ebebeb" stroke-width="1.4"/>
<line x1="1426" y1="160.45" x2="1729.6" y2="160.45" stroke="#ebebeb" stroke-width="1.4"/>
<line x1="1426" y1="141.32" x2="1729.6" y2="141.32" stroke="#ebebeb" stroke-width="1.4"/>
<line x1="1426" y1="122.19" x2="1729.6" y2="122.19" stroke="#ebebeb" stroke-width="1.4"/>
<line x1="1426" y1="103.06" x2="1729.6" y2="103.06" stroke="#ebebeb" stroke-width="1.4"/>
<line x1="1474.52" y1="84.4" x2="1474.52" y2="282.5" stroke="#ebebeb" stroke-width="1.4"/>
<line x1="1543.38" y1="84.4" x2="1543.38" y2="282.5" stroke="#ebebeb" stroke-width="1.4"/>
<line x1="1612.22" y1="84.4" x2="1612.22" y2="282.5" stroke="#ebebeb" stroke-width="1.4"/>
<line x1="1681.07" y1="84.4" x2="1681.07" y2="282.5" stroke="#ebebeb" stroke-width="1.4"/>
<line x1="1426" y1="265.67" x2="1729.6" y2="265.67" stroke="#ebebeb" stroke-width="2.8"/>
<line x1="1426" y1="246.54" x2="1729.6" y2="246.54" stroke="#ebebeb" stroke-width="2.8"/>
<line x1="1426" y1="227.41" x2="1729.6" y2="227.41" stroke="#ebebeb" stroke-width="2.8"/>
<line x1="1426" y1="208.28" x2="1729.6" y2="208.28" stroke="#ebebeb" stroke-width="2.8"/>
<line x1="1426" y1="189.15" x2="1729.6" y2="189.15" stroke="#ebebeb" stroke-width="2.8"/>
<line x1="1426" y1="170.02" x2="1729.6" y2="170.02" stroke="#ebebeb" stroke-width="2.8"/>
<line x1="1426" y1="150.89" x2="1729.6" y2="150.89" stroke="#ebebeb" stroke-width="2.8"/>
<line x1="1426" y1="131.76" x2="1729.6" y2="131.76" stroke="#ebebeb" stroke-width="2.8"/>
<line x1="1426" y1="112.63" x2="1729.6" y2="112.63" stroke="#ebebeb" stroke-width="2.8"/>
<line x1="1426" y1="93.5" x2="1729.6" y2="93.5" stroke="#ebebeb" stroke-width="2.8"/>
<line x1="1440.1" y1="84.4" x2="1440.1" y2="282.5" stroke="#ebebeb" stroke-width="2.8"/>
<line x1="1508.95" y1="84.4" x2="1508.95" y2="282.5" stroke="#ebebeb" stroke-width="2.8"/>
<line x1="1577.8" y1="84.4" x2="1577.8" y2="282.5" stroke="#ebebeb" stroke-width="2.8"/>
<line x1="1646.65" y1="84.4" x2="1646.65" y2="282.5" stroke="#ebebeb" stroke-width="2.8"/>
<line x1="1715.5" y1="84.4" x2="1715.5" y2="282.5" stroke="#ebebeb" stroke-width="2.8"/>
<g clip-path="url(#cp1)" fill="none" stroke-width="3.3" stroke-linejoin="round" stroke-linecap="butt">
<path d="M1442.9 267.2L1445.6 250.9L1448.4 237.1L1451.1 225.9L1453.9 216.6L1456.6 208.7L1459.4 201.9L1462.1 195.7L1464.9 189.3L1467.6 183.1L1470.4 177.2L1473.1 171.8L1475.9 166.7L1478.7 161.6L1481.4 156.6L1484.2 152.0L1486.9 147.8L1489.7 144.1L1492.4 140.9L1495.2 138.1L1497.9 135.6L1500.7 133.3L1503.4 131.2L1506.2 129.2L1508.9 127.4L1511.7 125.7L1514.5 124.1L1517.2 122.5L1520.0 121.0L1522.7 119.5L1525.5 118.1L1528.2 116.8L1531.0 115.6L1533.7 114.5L1536.5 113.6L1539.2 112.8L1542.0 112.1L1544.8 111.4L1547.5 110.8L1550.3 110.2L1553.0 109.6L1555.8 109.1L1558.5 108.6L1561.3 108.1L1564.0 107.7L1566.8 107.2L1569.5 106.8L1572.3 106.5L1575.0 106.1L1577.8 105.8L1580.6 105.4L1583.3 105.1L1586.1 104.8L1588.8 104.5L1591.6 104.3L1594.3 104.0L1597.1 103.8L1599.8 103.5L1602.6 103.3L1605.3 103.1L1608.1 102.9L1610.8 102.6L1613.6 102.4L1616.4 102.2L1619.1 102.1L1621.9 101.9L1624.6 101.7L1627.4 101.5L1630.1 101.3L1632.9 101.2L1635.6 101.0L1638.4 100.9L1641.1 100.7L1643.9 100.6L1646.6 100.4L1649.4 100.3L1652.2 100.1L1654.9 100.0L1657.7 99.9L1660.4 99.8L1663.2 99.6L1665.9 99.5L1668.7 99.4L1671.4 99.3L1674.2 99.2L1676.9 99.1L1679.7 99.0L1682.5 98.9L1685.2 98.8L1688.0 98.8L1690.7 98.7L1693.5 98.6L1696.2 98.5L1699.0 98.5L1701.7 98.4L1704.5 98.3L1707.2 98.3L1710.0 98.2L1712.7 98.1L1715.5 98.1" stroke="#F8766D"/>
<path d="M1442.9 259.9L1445.6 248.8L1448.4 235.7L1451.1 224.5L1453.9 215.0L1456.6 207.0L1459.4 200.1L1462.1 192.8L1464.9 184.9L1467.6 177.4L1470.4 170.8L1473.1 164.8L1475.9 158.9L1478.7 153.5L1481.4 148.7L1484.2 144.5L1486.9 140.9L1489.7 138.0L1492.4 135.4L1495.2 133.1L1497.9 131.0L1500.7 129.1L1503.4 127.3L1506.2 125.7L1508.9 124.1L1511.7 122.6L1514.5 121.2L1517.2 119.8L1520.0 118.5L1522.7 117.3L1525.5 116.2L1528.2 115.2L1531.0 114.3L1533.7 113.4L1536.5 112.7L1539.2 112.0L1542.0 111.4L1544.8 110.8L1547.5 110.2L1550.3 109.7L1553.0 109.2L1555.8 108.7L1558.5 108.2L1561.3 107.8L1564.0 107.4L1566.8 107.0L1569.5 106.6L1572.3 106.3L1575.0 105.9L1577.8 105.6L1580.6 105.3L1583.3 105.0L1586.1 104.7L1588.8 104.4L1591.6 104.2L1594.3 103.9L1597.1 103.7L1599.8 103.5L1602.6 103.3L1605.3 103.1L1608.1 102.9L1610.8 102.7L1613.6 102.5L1616.4 102.3L1619.1 102.1L1621.9 102.0L1624.6 101.8L1627.4 101.6L1630.1 101.5L1632.9 101.3L1635.6 101.2L1638.4 101.0L1641.1 100.9L1643.9 100.7L1646.6 100.6L1649.4 100.5L1652.2 100.4L1654.9 100.2L1657.7 100.1L1660.4 100.0L1663.2 99.9L1665.9 99.8L1668.7 99.7L1671.4 99.6L1674.2 99.5L1676.9 99.4L1679.7 99.3L1682.5 99.2L1685.2 99.2L1688.0 99.1L1690.7 99.0L1693.5 98.9L1696.2 98.9L1699.0 98.8L1701.7 98.7L1704.5 98.7L1707.2 98.6L1710.0 98.6L1712.7 98.5L1715.5 98.5" stroke="#E9812A"/>
<path d="M1442.9 258.0L1445.6 233.1L1448.4 215.6L1451.1 202.4L1453.9 191.2L1456.6 181.0L1459.4 172.3L1462.1 165.0L1464.9 158.6L1467.6 152.9L1470.4 147.6L1473.1 142.7L1475.9 138.2L1478.7 133.7L1481.4 129.6L1484.2 126.0L1486.9 122.7L1489.7 119.5L1492.4 116.7L1495.2 114.4L1497.9 112.6L1500.7 111.3L1503.4 110.0L1506.2 108.9L1508.9 107.9L1511.7 107.0L1514.5 106.2L1517.2 105.4L1520.0 104.8L1522.7 104.2L1525.5 103.7L1528.2 103.2L1531.0 102.8L1533.7 102.4L1536.5 102.1L1539.2 101.8L1542.0 101.5L1544.8 101.3L1547.5 101.0L1550.3 100.8L1553.0 100.5L1555.8 100.3L1558.5 100.1L1561.3 99.8L1564.0 99.6L1566.8 99.4L1569.5 99.2L1572.3 99.1L1575.0 98.9L1577.8 98.7L1580.6 98.5L1583.3 98.4L1586.1 98.2L1588.8 98.1L1591.6 97.9L1594.3 97.8L1597.1 97.7L1599.8 97.5L1602.6 97.4L1605.3 97.3L1608.1 97.2L1610.8 97.1L1613.6 97.0L1616.4 96.9L1619.1 96.8L1621.9 96.7L1624.6 96.6L1627.4 96.5L1630.1 96.5L1632.9 96.4L1635.6 96.3L1638.4 96.2L1641.1 96.2L1643.9 96.1L1646.6 96.1L1649.4 96.0L1652.2 95.9L1654.9 95.9L1657.7 95.8L1660.4 95.8L1663.2 95.8L1665.9 95.7L1668.7 95.7L1671.4 95.7L1674.2 95.6L1676.9 95.6L1679.7 95.6L1682.5 95.5L1685.2 95.5L1688.0 95.5L1690.7 95.5L1693.5 95.5L1696.2 95.5L1699.0 95.4L1701.7 95.4L1704.5 95.4L1707.2 95.4L1710.0 95.4L1712.7 95.4L1715.5 95.4" stroke="#DA8F00"/>
<path d="M1442.9 122.2L1445.6 96.4L1448.4 93.5" stroke="#A9A400"/>
<path d="M1442.9 198.7L1445.6 131.8L1448.4 106.9L1451.1 99.9L1453.9 97.3L1456.6 96.6L1459.4 96.0L1462.1 95.5L1464.9 95.2L1467.6 94.9L1470.4 94.6L1473.1 94.4L1475.9 94.3L1478.7 94.2L1481.4 94.0L1484.2 93.9L1486.9 93.9L1489.7 93.8L1492.4 93.7L1495.2 93.7L1497.9 93.6L1500.7 93.6L1503.4 93.6L1506.2 93.6L1508.9 93.5L1511.7 93.5L1514.5 93.5L1517.2 93.5L1520.0 93.5L1522.7 93.5L1525.5 93.5L1528.2 93.5L1531.0 93.5L1533.7 93.5L1536.5 93.5L1539.2 93.5L1542.0 93.5L1544.8 93.5L1547.5 93.5L1550.3 93.5L1553.0 93.5L1555.8 93.5L1558.5 93.5L1561.3 93.5L1564.0 93.5L1566.8 93.5L1569.5 93.5L1572.3 93.5L1575.0 93.5L1577.8 93.5L1580.6 93.5L1583.3 93.5L1586.1 93.5L1588.8 93.5L1591.6 93.5L1594.3 93.5L1597.1 93.5L1599.8 93.5L1602.6 93.5L1605.3 93.5L1608.1 93.5L1610.8 93.5L1613.6 93.5L1616.4 93.5L1619.1 93.5L1621.9 93.5L1624.6 93.5L1627.4 93.5" stroke="#00BA38"/>
<path d="M1442.9 233.1L1445.6 214.2L1448.4 196.6L1451.1 178.1L1453.9 165.0L1456.6 155.8L1459.4 148.0L1462.1 140.7L1464.9 132.9L1467.6 125.5L1470.4 120.3L1473.1 117.1L1475.9 114.8L1478.7 112.9L1481.4 111.5L1484.2 110.4L1486.9 109.4L1489.7 108.5L1492.4 107.7L1495.2 106.9L1497.9 106.1L1500.7 105.3L1503.4 104.5L1506.2 103.7L1508.9 103.0L1511.7 102.4L1514.5 101.8L1517.2 101.2L1520.0 100.7L1522.7 100.2L1525.5 99.7L1528.2 99.3L1531.0 98.9L1533.7 98.5L1536.5 98.2L1539.2 97.8L1542.0 97.5L1544.8 97.2L1547.5 96.9L1550.3 96.6L1553.0 96.3L1555.8 96.1L1558.5 95.9L1561.3 95.6L1564.0 95.4" stroke="#00BE6D"/>
<path d="M1442.9 233.1L1445.6 212.8L1448.4 194.8L1451.1 176.9L1453.9 162.7L1456.6 150.7L1459.4 140.0L1462.1 128.6L1464.9 118.4L1467.6 112.2L1470.4 108.8L1473.1 106.4L1475.9 104.5L1478.7 103.1L1481.4 101.8L1484.2 100.7L1486.9 99.8L1489.7 98.9L1492.4 98.2L1495.2 97.5L1497.9 97.0L1500.7 96.5L1503.4 96.0L1506.2 95.7L1508.9 95.4L1511.7 95.2L1514.5 94.9L1517.2 94.7L1520.0 94.5L1522.7 94.4L1525.5 94.2L1528.2 94.1L1531.0 94.0L1533.7 93.9L1536.5 93.9" stroke="#00C094"/>
<path d="M1442.9 259.9L1445.6 246.9L1448.4 232.5L1451.1 220.3L1453.9 210.2L1456.6 201.6L1459.4 193.1L1462.1 183.7L1464.9 175.2L1467.6 168.2L1470.4 162.3L1473.1 157.0L1475.9 152.1L1478.7 147.5L1481.4 143.0L1484.2 138.7L1486.9 134.1L1489.7 129.6L1492.4 125.6L1495.2 122.2L1497.9 119.3L1500.7 116.8L1503.4 114.6L1506.2 112.8L1508.9 111.3L1511.7 109.9L1514.5 108.7L1517.2 107.5L1520.0 106.5L1522.7 105.5L1525.5 104.7L1528.2 103.9L1531.0 103.3L1533.7 102.6L1536.5 102.1L1539.2 101.6L1542.0 101.1L1544.8 100.7L1547.5 100.3L1550.3 99.8L1553.0 99.4L1555.8 99.1L1558.5 98.7L1561.3 98.4L1564.0 98.1L1566.8 97.8L1569.5 97.5L1572.3 97.2L1575.0 97.0L1577.8 96.8L1580.6 96.6L1583.3 96.4L1586.1 96.2L1588.8 96.0L1591.6 95.9L1594.3 95.8L1597.1 95.7L1599.8 95.6L1602.6 95.5L1605.3 95.4L1608.1 95.4L1610.8 95.3L1613.6 95.2L1616.4 95.2L1619.1 95.1L1621.9 95.1L1624.6 95.0L1627.4 95.0L1630.1 94.9L1632.9 94.9L1635.6 94.8L1638.4 94.8L1641.1 94.8L1643.9 94.7L1646.6 94.7L1649.4 94.6L1652.2 94.6L1654.9 94.6L1657.7 94.6L1660.4 94.5L1663.2 94.5L1665.9 94.5L1668.7 94.4L1671.4 94.4L1674.2 94.4L1676.9 94.4L1679.7 94.4L1682.5 94.4L1685.2 94.3L1688.0 94.3L1690.7 94.3L1693.5 94.3L1696.2 94.3L1699.0 94.3L1701.7 94.3L1704.5 94.3L1707.2 94.3L1710.0 94.3L1712.7 94.3L1715.5 94.3" stroke="#00BDD2"/>
<path d="M1442.9 259.2L1445.6 244.5L1448.4 228.1L1451.1 214.3L1453.9 203.0L1456.6 192.3L1459.4 180.4L1462.1 169.8L1464.9 160.6L1467.6 152.2L1470.4 144.7L1473.1 138.1L1475.9 131.9L1478.7 126.5L1481.4 122.2L1484.2 118.9L1486.9 116.2L1489.7 113.9L1492.4 112.1L1495.2 110.5L1497.9 109.0L1500.7 107.7L1503.4 106.5L1506.2 105.4L1508.9 104.4L1511.7 103.6L1514.5 102.8L1517.2 102.2L1520.0 101.6L1522.7 101.2L1525.5 100.7L1528.2 100.4L1531.0 100.0L1533.7 99.7L1536.5 99.3L1539.2 99.0L1542.0 98.7L1544.8 98.5L1547.5 98.2L1550.3 98.0L1553.0 97.8L1555.8 97.6L1558.5 97.4L1561.3 97.2L1564.0 97.0L1566.8 96.8L1569.5 96.7L1572.3 96.5L1575.0 96.4L1577.8 96.3L1580.6 96.2L1583.3 96.1L1586.1 96.0L1588.8 95.9L1591.6 95.8L1594.3 95.7L1597.1 95.6L1599.8 95.5L1602.6 95.5L1605.3 95.4L1608.1 95.4L1610.8 95.3L1613.6 95.2L1616.4 95.2L1619.1 95.1L1621.9 95.1L1624.6 95.0L1627.4 95.0L1630.1 94.9L1632.9 94.9L1635.6 94.9L1638.4 94.8L1641.1 94.8L1643.9 94.7L1646.6 94.7L1649.4 94.7L1652.2 94.6L1654.9 94.6L1657.7 94.6L1660.4 94.5L1663.2 94.5L1665.9 94.5L1668.7 94.5L1671.4 94.4L1674.2 94.4L1676.9 94.4L1679.7 94.4L1682.5 94.4L1685.2 94.3L1688.0 94.3L1690.7 94.3L1693.5 94.3L1696.2 94.3L1699.0 94.3L1701.7 94.3L1704.5 94.3L1707.2 94.3L1710.0 94.3L1712.7 94.3L1715.5 94.3" stroke="#00ABFD"/>
<path d="M1442.9 208.3L1445.6 131.8L1448.4 116.5L1451.1 110.4L1453.9 106.9L1456.6 104.4L1459.4 102.5L1462.1 101.2L1464.9 100.1L1467.6 99.1L1470.4 98.4L1473.1 97.7L1475.9 97.2L1478.7 96.7L1481.4 96.4L1484.2 96.1L1486.9 95.8L1489.7 95.5L1492.4 95.2L1495.2 95.0L1497.9 94.8L1500.7 94.6L1503.4 94.5L1506.2 94.4L1508.9 94.2L1511.7 94.1L1514.5 94.0L1517.2 94.0L1520.0 93.9L1522.7 93.9L1525.5 93.9L1528.2 93.8L1531.0 93.8L1533.7 93.8L1536.5 93.7L1539.2 93.7L1542.0 93.7L1544.8 93.7L1547.5 93.7L1550.3 93.6L1553.0 93.6L1555.8 93.6L1558.5 93.6L1561.3 93.6L1564.0 93.6L1566.8 93.6L1569.5 93.6L1572.3 93.5L1575.0 93.5L1577.8 93.5L1580.6 93.5L1583.3 93.5L1586.1 93.5L1588.8 93.5L1591.6 93.5L1594.3 93.5L1597.1 93.5L1599.8 93.5L1602.6 93.5" stroke="#A58AFF"/>
<path d="M1442.9 198.7L1445.6 116.5L1448.4 105.0L1451.1 100.6L1453.9 98.3L1456.6 96.9L1459.4 95.9L1462.1 95.2L1464.9 94.8L1467.6 94.5L1470.4 94.3L1473.1 94.1L1475.9 93.9L1478.7 93.8L1481.4 93.7L1484.2 93.6L1486.9 93.6L1489.7 93.5L1492.4 93.5L1495.2 93.5" stroke="#D078FF"/>
<path d="M1442.9 198.7L1445.6 112.6L1448.4 99.2L1451.1 96.5L1453.9 95.4L1456.6 95.0L1459.4 94.6L1462.1 94.3L1464.9 94.1L1467.6 94.0L1470.4 93.8L1473.1 93.7L1475.9 93.7L1478.7 93.6L1481.4 93.6L1484.2 93.5L1486.9 93.5L1489.7 93.5L1492.4 93.5" stroke="#EC69EF"/>
<path d="M1442.9 227.4L1445.6 166.2L1448.4 112.6L1451.1 101.2L1453.9 97.3L1456.6 95.4L1459.4 94.4L1462.1 93.7L1464.9 93.5" stroke="#EC69EF"/>
<path d="M1442.9 198.7L1445.6 141.3L1448.4 106.9L1451.1 98.3L1453.9 95.5L1456.6 94.0L1459.4 93.5" stroke="#FB61D7"/>
<path d="M1442.9 217.8L1445.6 122.2L1448.4 103.1L1451.1 97.6L1453.9 95.4L1456.6 94.6L1459.4 94.1L1462.1 93.7L1464.9 93.6L1467.6 93.5L1470.4 93.5L1473.1 93.5L1475.9 93.5L1478.7 93.5L1481.4 93.5L1484.2 93.5L1486.9 93.5L1489.7 93.5L1492.4 93.5L1495.2 93.5L1497.9 93.5L1500.7 93.5L1503.4 93.5L1506.2 93.5L1508.9 93.5L1511.7 93.5L1514.5 93.5L1517.2 93.5" stroke="#FF63B9"/>
<path d="M1442.9 237.0L1445.6 189.2L1448.4 131.8L1451.1 105.1L1453.9 98.3L1456.6 96.2L1459.4 95.1L1462.1 94.5L1464.9 94.0L1467.6 93.7L1470.4 93.6L1473.1 93.5" stroke="#FF63B9"/>
<path d="M1442.9 166.2L1445.6 106.9L1448.4 96.4L1451.1 94.5L1453.9 93.7L1456.6 93.5" stroke="#FF63B9"/>
<path d="M1442.9 227.4L1445.6 200.6L1448.4 173.4L1451.1 146.5L1453.9 127.0L1456.6 114.2L1459.4 108.3L1462.1 105.0L1464.9 102.6L1467.6 100.7L1470.4 99.3L1473.1 98.3L1475.9 97.5L1478.7 96.8L1481.4 96.2L1484.2 95.7L1486.9 95.3L1489.7 95.0L1492.4 94.7L1495.2 94.5L1497.9 94.3L1500.7 94.1L1503.4 93.9L1506.2 93.8L1508.9 93.7L1511.7 93.6L1514.5 93.5L1517.2 93.5" stroke="#FF6B96"/>
<line x1="1426" y1="112.63" x2="1729.6" y2="112.63" stroke="#000" stroke-width="3.0" stroke-dasharray="10.4 9.9"/>
</g>
<rect x="1426" y="84.4" width="303.6" height="1.4" fill="#2a2a2a"/>
<rect x="1426" y="280.7" width="303.6" height="1.8" fill="#2a2a2a"/>
<rect x="1426" y="84.4" width="1.8" height="198.1" fill="#2a2a2a"/>
<rect x="1727.8" y="84.4" width="1.8" height="198.1" fill="#2a2a2a"/>
<rect x="1741.7" y="42.9" width="303.7" height="41.5" fill="#d9d9d9"/>
<rect x="1741.7" y="42.9" width="303.7" height="1.8" fill="#2a2a2a"/>
<rect x="1741.7" y="83" width="303.7" height="1.4" fill="#2a2a2a"/>
<rect x="1741.7" y="42.9" width="1.8" height="41.5" fill="#2a2a2a"/>
<rect x="2043.6" y="42.9" width="1.8" height="41.5" fill="#2a2a2a"/>
<text x="1893.55" y="71.85" font-size="21.4" fill="#1a1a1a" text-anchor="middle">AMR</text>
<line x1="1741.7" y1="275.24" x2="2045.4" y2="275.24" stroke="#ebebeb" stroke-width="1.4"/>
<line x1="1741.7" y1="256.11" x2="2045.4" y2="256.11" stroke="#ebebeb" stroke-width="1.4"/>
<line x1="1741.7" y1="236.98" x2="2045.4" y2="236.98" stroke="#ebebeb" stroke-width="1.4"/>
<line x1="1741.7" y1="217.84" x2="2045.4" y2="217.84" stroke="#ebebeb" stroke-width="1.4"/>
<line x1="1741.7" y1="198.72" x2="2045.4" y2="198.72" stroke="#ebebeb" stroke-width="1.4"/>
<line x1="1741.7" y1="179.58" x2="2045.4" y2="179.58" stroke="#ebebeb" stroke-width="1.4"/>
<line x1="1741.7" y1="160.45" x2="2045.4" y2="160.45" stroke="#ebebeb" stroke-width="1.4"/>
<line x1="1741.7" y1="141.32" x2="2045.4" y2="141.32" stroke="#ebebeb" stroke-width="1.4"/>
<line x1="1741.7" y1="122.19" x2="2045.4" y2="122.19" stroke="#ebebeb" stroke-width="1.4"/>
<line x1="1741.7" y1="103.06" x2="2045.4" y2="103.06" stroke="#ebebeb" stroke-width="1.4"/>
<line x1="1790.22" y1="84.4" x2="1790.22" y2="282.5" stroke="#ebebeb" stroke-width="1.4"/>
<line x1="1859.08" y1="84.4" x2="1859.08" y2="282.5" stroke="#ebebeb" stroke-width="1.4"/>
<line x1="1927.92" y1="84.4" x2="1927.92" y2="282.5" stroke="#ebebeb" stroke-width="1.4"/>
<line x1="1996.77" y1="84.4" x2="1996.77" y2="282.5" stroke="#ebebeb" stroke-width="1.4"/>
<line x1="1741.7" y1="265.67" x2="2045.4" y2="265.67" stroke="#ebebeb" stroke-width="2.8"/>
<line x1="1741.7" y1="246.54" x2="2045.4" y2="246.54" stroke="#ebebeb" stroke-width="2.8"/>
<line x1="1741.7" y1="227.41" x2="2045.4" y2="227.41" stroke="#ebebeb" stroke-width="2.8"/>
<line x1="1741.7" y1="208.28" x2="2045.4" y2="208.28" stroke="#ebebeb" stroke-width="2.8"/>
<line x1="1741.7" y1="189.15" x2="2045.4" y2="189.15" stroke="#ebebeb" stroke-width="2.8"/>
<line x1="1741.7" y1="170.02" x2="2045.4" y2="170.02" stroke="#ebebeb" stroke-width="2.8"/>
<line x1="1741.7" y1="150.89" x2="2045.4" y2="150.89" stroke="#ebebeb" stroke-width="2.8"/>
<line x1="1741.7" y1="131.76" x2="2045.4" y2="131.76" stroke="#ebebeb" stroke-width="2.8"/>
<line x1="1741.7" y1="112.63" x2="2045.4" y2="112.63" stroke="#ebebeb" stroke-width="2.8"/>
<line x1="1741.7" y1="93.5" x2="2045.4" y2="93.5" stroke="#ebebeb" stroke-width="2.8"/>
<line x1="1755.8" y1="84.4" x2="1755.8" y2="282.5" stroke="#ebebeb" stroke-width="2.8"/>
<line x1="1824.65" y1="84.4" x2="1824.65" y2="282.5" stroke="#ebebeb" stroke-width="2.8"/>
<line x1="1893.5" y1="84.4" x2="1893.5" y2="282.5" stroke="#ebebeb" stroke-width="2.8"/>
<line x1="1962.35" y1="84.4" x2="1962.35" y2="282.5" stroke="#ebebeb" stroke-width="2.8"/>
<line x1="2031.2" y1="84.4" x2="2031.2" y2="282.5" stroke="#ebebeb" stroke-width="2.8"/>
<g clip-path="url(#cp2)" fill="none" stroke-width="3.3" stroke-linejoin="round" stroke-linecap="butt">
<path d="M1758.6 256.1L1761.3 232.2L1764.1 216.1L1766.8 203.3L1769.6 192.9L1772.3 183.9L1775.1 176.5L1777.8 170.8L1780.6 166.4L1783.3 162.7L1786.1 159.6L1788.8 156.7L1791.6 153.9L1794.4 151.3L1797.1 148.9L1799.9 146.7L1802.6 144.7L1805.4 142.9L1808.1 141.3L1810.9 139.7L1813.6 138.3L1816.4 136.8L1819.1 135.5L1821.9 134.1L1824.6 132.7L1827.4 131.3L1830.2 130.0L1832.9 128.6L1835.7 127.3L1838.4 126.1L1841.2 124.9L1843.9 123.8L1846.7 122.7L1849.4 121.7L1852.2 120.7L1854.9 119.8L1857.7 118.8L1860.5 117.9L1863.2 116.9L1866.0 116.0L1868.7 115.0L1871.5 114.1L1874.2 113.3L1877.0 112.5L1879.7 111.7L1882.5 111.0L1885.2 110.4L1888.0 109.7L1890.7 109.1L1893.5 108.6L1896.3 108.1L1899.0 107.7L1901.8 107.3L1904.5 106.8L1907.3 106.5L1910.0 106.1L1912.8 105.7L1915.5 105.4L1918.3 105.1L1921.0 104.8L1923.8 104.5L1926.5 104.2L1929.3 103.9L1932.1 103.6L1934.8 103.3L1937.6 103.0L1940.3 102.8L1943.1 102.5L1945.8 102.2L1948.6 102.0L1951.3 101.8L1954.1 101.6L1956.8 101.4L1959.6 101.2L1962.3 101.0L1965.1 100.8L1967.9 100.7L1970.6 100.5L1973.4 100.4L1976.1 100.2L1978.9 100.1L1981.6 99.9L1984.4 99.8L1987.1 99.6L1989.9 99.5L1992.6 99.4L1995.4 99.3L1998.2 99.1L2000.9 99.0L2003.7 98.9L2006.4 98.8L2009.2 98.7L2011.9 98.6L2014.7 98.5L2017.4 98.5L2020.2 98.4L2022.9 98.3L2025.7 98.2L2028.4 98.2L2031.2 98.1" stroke="#F8766D"/>
<path d="M1758.6 273.3L1761.3 263.1L1764.1 254.2L1766.8 246.1L1769.6 238.3L1772.3 231.2L1775.1 224.4L1777.8 217.6L1780.6 211.3L1783.3 205.4L1786.1 200.1L1788.8 195.0L1791.6 190.0L1794.4 185.3L1797.1 180.9L1799.9 176.8L1802.6 173.0L1805.4 169.5L1808.1 166.4L1810.9 163.5L1813.6 160.8L1816.4 158.2L1819.1 155.9L1821.9 153.7L1824.6 151.7L1827.4 149.8L1830.2 148.0L1832.9 146.4L1835.7 144.8L1838.4 143.3L1841.2 141.9L1843.9 140.5L1846.7 139.2L1849.4 137.9L1852.2 136.6L1854.9 135.4L1857.7 134.2L1860.5 133.1L1863.2 132.0L1866.0 130.8L1868.7 129.8L1871.5 128.8L1874.2 127.8L1877.0 127.0L1879.7 126.2L1882.5 125.4L1885.2 124.7L1888.0 124.0L1890.7 123.3L1893.5 122.6L1896.3 121.9L1899.0 121.2L1901.8 120.5L1904.5 119.8L1907.3 119.2L1910.0 118.5L1912.8 118.0L1915.5 117.4L1918.3 116.9L1921.0 116.4L1923.8 115.9L1926.5 115.4L1929.3 114.9L1932.1 114.3L1934.8 113.8L1937.6 113.3L1940.3 112.9L1943.1 112.4L1945.8 112.0L1948.6 111.6L1951.3 111.2L1954.1 110.9L1956.8 110.5L1959.6 110.2L1962.3 109.9L1965.1 109.6L1967.9 109.4L1970.6 109.1L1973.4 108.8L1976.1 108.6L1978.9 108.3L1981.6 108.1L1984.4 107.9L1987.1 107.6L1989.9 107.4L1992.6 107.2L1995.4 107.0L1998.2 106.8L2000.9 106.7L2003.7 106.5L2006.4 106.3L2009.2 106.2L2011.9 106.0L2014.7 105.9L2017.4 105.7L2020.2 105.6L2022.9 105.5L2025.7 105.4L2028.4 105.3L2031.2 105.2" stroke="#E9812A"/>
<path d="M1758.6 256.1L1761.3 241.0L1764.1 227.4L1766.8 214.2L1769.6 202.1L1772.3 192.6L1775.1 184.3L1777.8 176.9L1780.6 170.1L1783.3 163.9L1786.1 158.0L1788.8 152.6L1791.6 147.4L1794.4 142.4L1797.1 137.4L1799.9 132.7L1802.6 129.6L1805.4 127.0L1808.1 124.8L1810.9 122.9L1813.6 121.2L1816.4 119.6L1819.1 118.1L1821.9 116.6L1824.6 115.1L1827.4 113.6L1830.2 112.4L1832.9 111.4L1835.7 110.4L1838.4 109.4L1841.2 108.6L1843.9 107.8L1846.7 107.1L1849.4 106.5L1852.2 105.9L1854.9 105.4L1857.7 105.0L1860.5 104.6L1863.2 104.3L1866.0 104.0L1868.7 103.7L1871.5 103.5L1874.2 103.3L1877.0 103.1L1879.7 102.9L1882.5 102.7L1885.2 102.5L1888.0 102.3L1890.7 102.1L1893.5 101.9L1896.3 101.7L1899.0 101.5L1901.8 101.3L1904.5 101.1L1907.3 100.8L1910.0 100.6L1912.8 100.4L1915.5 100.2L1918.3 100.0L1921.0 99.9L1923.8 99.7L1926.5 99.5L1929.3 99.4L1932.1 99.2L1934.8 99.0L1937.6 98.9L1940.3 98.7L1943.1 98.6L1945.8 98.4L1948.6 98.3L1951.3 98.2L1954.1 98.1L1956.8 98.0L1959.6 97.9L1962.3 97.8L1965.1 97.8L1967.9 97.7L1970.6 97.7L1973.4 97.6L1976.1 97.5L1978.9 97.5L1981.6 97.4L1984.4 97.4L1987.1 97.3L1989.9 97.3L1992.6 97.2L1995.4 97.2L1998.2 97.2L2000.9 97.1L2003.7 97.1L2006.4 97.1L2009.2 97.0L2011.9 97.0L2014.7 97.0L2017.4 97.0L2020.2 97.0L2022.9 97.0L2025.7 96.9L2028.4 96.9L2031.2 96.9" stroke="#DA8F00"/>
<path d="M1758.6 131.8L1761.3 99.2L1764.1 93.5" stroke="#A9A400"/>
<path d="M1758.6 189.2L1761.3 150.9L1764.1 132.0L1766.8 116.5L1769.6 106.9L1772.3 100.2L1775.1 98.2L1777.8 97.0L1780.6 96.4L1783.3 95.9L1786.1 95.6L1788.8 95.4" stroke="#00BA38"/>
<path d="M1758.6 237.0L1761.3 216.3L1764.1 201.5L1766.8 188.7L1769.6 173.9L1772.3 158.6L1775.1 146.3L1777.8 136.0L1780.6 128.0L1783.3 122.2L1786.1 119.3L1788.8 116.9L1791.6 114.7L1794.4 112.9L1797.1 111.6L1799.9 110.5L1802.6 109.6L1805.4 108.7L1808.1 107.9L1810.9 107.1L1813.6 106.4L1816.4 105.8L1819.1 105.1L1821.9 104.6L1824.6 104.0L1827.4 103.5L1830.2 103.0L1832.9 102.6L1835.7 102.1L1838.4 101.7L1841.2 101.3L1843.9 101.0L1846.7 100.6L1849.4 100.2L1852.2 99.9L1854.9 99.6L1857.7 99.2L1860.5 98.9L1863.2 98.6L1866.0 98.2L1868.7 97.9L1871.5 97.6L1874.2 97.3L1877.0 97.0L1879.7 96.8L1882.5 96.5L1885.2 96.2L1888.0 95.9L1890.7 95.7L1893.5 95.4" stroke="#00BE6D"/>
<path d="M1758.6 237.0L1761.3 214.5L1764.1 199.8L1766.8 187.4L1769.6 171.3L1772.3 155.0L1775.1 142.2L1777.8 131.8L1780.6 123.5L1783.3 116.9L1786.1 112.3L1788.8 109.0L1791.6 106.5L1794.4 104.5L1797.1 103.1L1799.9 101.9L1802.6 100.9L1805.4 100.0L1808.1 99.2L1810.9 98.5L1813.6 97.9L1816.4 97.4L1819.1 97.0L1821.9 96.7L1824.6 96.4L1827.4 96.1L1830.2 95.9L1832.9 95.6L1835.7 95.4L1838.4 95.2L1841.2 95.0L1843.9 94.9L1846.7 94.7L1849.4 94.6L1852.2 94.5L1854.9 94.4L1857.7 94.4L1860.5 94.3L1863.2 94.3L1866.0 94.3" stroke="#00C094"/>
<path d="M1758.6 246.5L1761.3 236.3L1764.1 227.4L1766.8 219.7L1769.6 212.2L1772.3 204.9L1775.1 197.9L1777.8 190.1L1780.6 182.0L1783.3 174.4L1786.1 167.2L1788.8 160.1L1791.6 153.2L1794.4 146.8L1797.1 141.1L1799.9 136.0L1802.6 131.8L1805.4 128.0L1808.1 124.6L1810.9 121.5L1813.6 118.7L1816.4 116.3L1819.1 114.1L1821.9 112.3L1824.6 110.7L1827.4 109.2L1830.2 107.8L1832.9 106.6L1835.7 105.5L1838.4 104.5L1841.2 103.6L1843.9 102.9L1846.7 102.2L1849.4 101.5L1852.2 101.0L1854.9 100.5L1857.7 100.0L1860.5 99.6L1863.2 99.2L1866.0 98.9L1868.7 98.6L1871.5 98.2L1874.2 98.0L1877.0 97.7L1879.7 97.4L1882.5 97.2L1885.2 97.0L1888.0 96.8L1890.7 96.7L1893.5 96.6L1896.3 96.4L1899.0 96.3L1901.8 96.2L1904.5 96.1L1907.3 96.0L1910.0 95.9L1912.8 95.8L1915.5 95.7L1918.3 95.6L1921.0 95.6L1923.8 95.5L1926.5 95.4L1929.3 95.3L1932.1 95.2L1934.8 95.2L1937.6 95.1L1940.3 95.0L1943.1 95.0L1945.8 94.9L1948.6 94.8L1951.3 94.8L1954.1 94.7L1956.8 94.7L1959.6 94.6L1962.3 94.6L1965.1 94.5L1967.9 94.5L1970.6 94.5L1973.4 94.4L1976.1 94.4L1978.9 94.4L1981.6 94.3L1984.4 94.3L1987.1 94.3L1989.9 94.2L1992.6 94.2L1995.4 94.2L1998.2 94.2L2000.9 94.2L2003.7 94.1L2006.4 94.1L2009.2 94.1L2011.9 94.1L2014.7 94.1L2017.4 94.1L2020.2 94.1L2022.9 94.1L2025.7 94.1L2028.4 94.1L2031.2 94.1" stroke="#00BDD2"/>
<path d="M1758.6 263.8L1761.3 253.0L1764.1 242.7L1766.8 232.8L1769.6 222.8L1772.3 213.7L1775.1 205.7L1777.8 198.7L1780.6 192.1L1783.3 185.7L1786.1 179.8L1788.8 174.3L1791.6 169.3L1794.4 164.5L1797.1 160.0L1799.9 155.7L1802.6 151.6L1805.4 147.9L1808.1 144.5L1810.9 141.4L1813.6 138.6L1816.4 136.1L1819.1 133.8L1821.9 131.6L1824.6 129.5L1827.4 127.5L1830.2 125.5L1832.9 123.7L1835.7 122.0L1838.4 120.3L1841.2 118.8L1843.9 117.2L1846.7 115.8L1849.4 114.4L1852.2 113.1L1854.9 112.0L1857.7 110.9L1860.5 109.9L1863.2 109.0L1866.0 108.1L1868.7 107.2L1871.5 106.4L1874.2 105.7L1877.0 104.9L1879.7 104.2L1882.5 103.4L1885.2 102.8L1888.0 102.1L1890.7 101.6L1893.5 101.2L1896.3 100.8L1899.0 100.4L1901.8 100.1L1904.5 99.8L1907.3 99.5L1910.0 99.2L1912.8 99.0L1915.5 98.7L1918.3 98.5L1921.0 98.3L1923.8 98.1L1926.5 98.0L1929.3 97.8L1932.1 97.7L1934.8 97.5L1937.6 97.4L1940.3 97.3L1943.1 97.1L1945.8 97.0L1948.6 96.9L1951.3 96.7L1954.1 96.6L1956.8 96.5L1959.6 96.4L1962.3 96.3L1965.1 96.2L1967.9 96.1L1970.6 96.0L1973.4 95.9L1976.1 95.8L1978.9 95.7L1981.6 95.6L1984.4 95.6L1987.1 95.5L1989.9 95.4L1992.6 95.3L1995.4 95.3L1998.2 95.2L2000.9 95.2L2003.7 95.1L2006.4 95.1L2009.2 95.0L2011.9 95.0L2014.7 95.0L2017.4 94.9L2020.2 94.9L2022.9 94.9L2025.7 94.9L2028.4 94.9L2031.2 94.8" stroke="#00ABFD"/>
<path d="M1758.6 227.4L1761.3 193.0L1764.1 170.0L1766.8 154.4L1769.6 131.8L1772.3 116.5L1775.1 108.8L1777.8 105.7L1780.6 103.6L1783.3 102.1L1786.1 101.1L1788.8 100.2L1791.6 99.5L1794.4 98.8L1797.1 98.3L1799.9 97.8L1802.6 97.4L1805.4 97.1L1808.1 96.8L1810.9 96.5L1813.6 96.2L1816.4 96.0L1819.1 95.8L1821.9 95.6L1824.6 95.4L1827.4 95.3L1830.2 95.1L1832.9 95.0L1835.7 94.8L1838.4 94.7L1841.2 94.6L1843.9 94.5L1846.7 94.3L1849.4 94.3L1852.2 94.2L1854.9 94.1L1857.7 94.0L1860.5 93.9L1863.2 93.8L1866.0 93.8L1868.7 93.7L1871.5 93.7L1874.2 93.6L1877.0 93.6L1879.7 93.5L1882.5 93.5" stroke="#A58AFF"/>
<path d="M1758.6 231.2L1761.3 206.7L1764.1 189.2L1766.8 174.6L1769.6 162.4L1772.3 153.7L1775.1 137.8L1777.8 112.6L1780.6 106.4L1783.3 103.1L1786.1 100.6L1788.8 98.8L1791.6 97.4L1794.4 96.4L1797.1 95.6L1799.9 94.9L1802.6 94.3L1805.4 93.9L1808.1 93.6L1810.9 93.5L1813.6 93.5L1816.4 93.5L1819.1 93.5L1821.9 93.5L1824.6 93.5L1827.4 93.5" stroke="#D078FF"/>
<path d="M1758.6 198.7L1761.3 122.2L1764.1 103.1L1766.8 97.5L1769.6 95.4L1772.3 94.9L1775.1 94.5L1777.8 94.3L1780.6 94.1L1783.3 93.9L1786.1 93.8L1788.8 93.7L1791.6 93.6L1794.4 93.6L1797.1 93.6L1799.9 93.5L1802.6 93.5L1805.4 93.5L1808.1 93.5" stroke="#EC69EF"/>
<path d="M1758.6 227.4L1761.3 166.2L1764.1 112.6L1766.8 101.2L1769.6 97.3L1772.3 95.4L1775.1 94.4L1777.8 93.7L1780.6 93.5" stroke="#EC69EF"/>
<path d="M1758.6 198.7L1761.3 141.3L1764.1 106.9L1766.8 98.3L1769.6 95.5L1772.3 94.0L1775.1 93.5" stroke="#FB61D7"/>
<path d="M1758.6 179.6L1761.3 116.5L1764.1 101.2L1766.8 96.2L1769.6 94.5L1772.3 94.1L1775.1 93.9L1777.8 93.7L1780.6 93.6L1783.3 93.6L1786.1 93.5L1788.8 93.5L1791.6 93.5" stroke="#FF63B9"/>
<path d="M1758.6 237.0L1761.3 189.2L1764.1 131.8L1766.8 105.1L1769.6 98.3L1772.3 96.2L1775.1 95.1L1777.8 94.5L1780.6 94.0L1783.3 93.7L1786.1 93.6L1788.8 93.5" stroke="#FF63B9"/>
<path d="M1758.6 166.2L1761.3 106.9L1764.1 96.4L1766.8 94.5L1769.6 93.7L1772.3 93.5" stroke="#FF63B9"/>
<path d="M1758.6 227.4L1761.3 198.7L1764.1 177.7L1766.8 160.5L1769.6 150.7L1772.3 132.0L1775.1 114.7L1777.8 107.1L1780.6 103.1L1783.3 100.4L1786.1 98.5L1788.8 97.3L1791.6 96.6L1794.4 96.0L1797.1 95.4L1799.9 95.0L1802.6 94.6L1805.4 94.3L1808.1 94.0L1810.9 93.8L1813.6 93.7L1816.4 93.6L1819.1 93.5L1821.9 93.5" stroke="#FF6B96"/>
<line x1="1741.7" y1="112.63" x2="2045.4" y2="112.63" stroke="#000" stroke-width="3.0" stroke-dasharray="10.4 9.9"/>
</g>
<rect x="1741.7" y="84.4" width="303.7" height="1.4" fill="#2a2a2a"/>
<rect x="1741.7" y="280.7" width="303.7" height="1.8" fill="#2a2a2a"/>
<rect x="1741.7" y="84.4" width="1.8" height="198.1" fill="#2a2a2a"/>
<rect x="2043.6" y="84.4" width="1.8" height="198.1" fill="#2a2a2a"/>
<rect x="1110.2" y="295.1" width="303.7" height="41.2" fill="#d9d9d9"/>
<rect x="1110.2" y="295.1" width="303.7" height="1.8" fill="#2a2a2a"/>
<rect x="1110.2" y="334.9" width="303.7" height="1.4" fill="#2a2a2a"/>
<rect x="1110.2" y="295.1" width="1.8" height="41.2" fill="#2a2a2a"/>
<rect x="1412.1" y="295.1" width="1.8" height="41.2" fill="#2a2a2a"/>
<text x="1262.05" y="323.9" font-size="21.4" fill="#1a1a1a" text-anchor="middle">EAS</text>
<line x1="1110.2" y1="527.13" x2="1413.9" y2="527.13" stroke="#ebebeb" stroke-width="1.4"/>
<line x1="1110.2" y1="508" x2="1413.9" y2="508" stroke="#ebebeb" stroke-width="1.4"/>
<line x1="1110.2" y1="488.88" x2="1413.9" y2="488.88" stroke="#ebebeb" stroke-width="1.4"/>
<line x1="1110.2" y1="469.74" x2="1413.9" y2="469.74" stroke="#ebebeb" stroke-width="1.4"/>
<line x1="1110.2" y1="450.62" x2="1413.9" y2="450.62" stroke="#ebebeb" stroke-width="1.4"/>
<line x1="1110.2" y1="431.48" x2="1413.9" y2="431.48" stroke="#ebebeb" stroke-width="1.4"/>
<line x1="1110.2" y1="412.35" x2="1413.9" y2="412.35" stroke="#ebebeb" stroke-width="1.4"/>
<line x1="1110.2" y1="393.22" x2="1413.9" y2="393.22" stroke="#ebebeb" stroke-width="1.4"/>
<line x1="1110.2" y1="374.09" x2="1413.9" y2="374.09" stroke="#ebebeb" stroke-width="1.4"/>
<line x1="1110.2" y1="354.96" x2="1413.9" y2="354.96" stroke="#ebebeb" stroke-width="1.4"/>
<line x1="1158.72" y1="336.3" x2="1158.72" y2="534.5" stroke="#ebebeb" stroke-width="1.4"/>
<line x1="1227.58" y1="336.3" x2="1227.58" y2="534.5" stroke="#ebebeb" stroke-width="1.4"/>
<line x1="1296.42" y1="336.3" x2="1296.42" y2="534.5" stroke="#ebebeb" stroke-width="1.4"/>
<line x1="1365.27" y1="336.3" x2="1365.27" y2="534.5" stroke="#ebebeb" stroke-width="1.4"/>
<line x1="1110.2" y1="517.57" x2="1413.9" y2="517.57" stroke="#ebebeb" stroke-width="2.8"/>
<line x1="1110.2" y1="498.44" x2="1413.9" y2="498.44" stroke="#ebebeb" stroke-width="2.8"/>
<line x1="1110.2" y1="479.31" x2="1413.9" y2="479.31" stroke="#ebebeb" stroke-width="2.8"/>
<line x1="1110.2" y1="460.18" x2="1413.9" y2="460.18" stroke="#ebebeb" stroke-width="2.8"/>
<line x1="1110.2" y1="441.05" x2="1413.9" y2="441.05" stroke="#ebebeb" stroke-width="2.8"/>
<line x1="1110.2" y1="421.92" x2="1413.9" y2="421.92" stroke="#ebebeb" stroke-width="2.8"/>
<line x1="1110.2" y1="402.79" x2="1413.9" y2="402.79" stroke="#ebebeb" stroke-width="2.8"/>
<line x1="1110.2" y1="383.66" x2="1413.9" y2="383.66" stroke="#ebebeb" stroke-width="2.8"/>
<line x1="1110.2" y1="364.53" x2="1413.9" y2="364.53" stroke="#ebebeb" stroke-width="2.8"/>
<line x1="1110.2" y1="345.4" x2="1413.9" y2="345.4" stroke="#ebebeb" stroke-width="2.8"/>
<line x1="1124.3" y1="336.3" x2="1124.3" y2="534.5" stroke="#ebebeb" stroke-width="2.8"/>
<line x1="1193.15" y1="336.3" x2="1193.15" y2="534.5" stroke="#ebebeb" stroke-width="2.8"/>
<line x1="1262" y1="336.3" x2="1262" y2="534.5" stroke="#ebebeb" stroke-width="2.8"/>
<line x1="1330.85" y1="336.3" x2="1330.85" y2="534.5" stroke="#ebebeb" stroke-width="2.8"/>
<line x1="1399.7" y1="336.3" x2="1399.7" y2="534.5" stroke="#ebebeb" stroke-width="2.8"/>
<g clip-path="url(#cp3)" fill="none" stroke-width="3.3" stroke-linejoin="round" stroke-linecap="butt">
<path d="M1127.1 504.2L1129.8 481.2L1132.6 461.6L1135.3 445.5L1138.1 429.3L1140.8 417.1L1143.6 407.2L1146.3 399.2L1149.1 393.0L1151.8 388.1L1154.6 384.1L1157.3 380.8L1160.1 377.9L1162.9 375.4L1165.6 373.2L1168.4 371.2L1171.1 369.4L1173.9 367.8L1176.6 366.3L1179.4 365.1L1182.1 364.0L1184.9 363.0L1187.6 362.0L1190.4 361.2L1193.1 360.4L1195.9 359.6L1198.7 358.9L1201.4 358.3L1204.2 357.7L1206.9 357.1L1209.7 356.6L1212.4 356.2L1215.2 355.7L1217.9 355.3L1220.7 355.0L1223.4 354.6L1226.2 354.3L1229.0 354.0L1231.7 353.7L1234.5 353.4L1237.2 353.2L1240.0 352.9L1242.7 352.7L1245.5 352.5L1248.2 352.3L1251.0 352.1L1253.7 352.0L1256.5 351.8L1259.2 351.7L1262.0 351.5" stroke="#F8766D"/>
<path d="M1127.1 517.6L1129.8 506.0L1132.6 494.6L1135.3 483.0L1138.1 471.3L1140.8 461.3L1143.6 453.3L1146.3 446.9L1149.1 441.4L1151.8 436.5L1154.6 432.0L1157.3 427.9L1160.1 424.1L1162.9 420.6L1165.6 417.2L1168.4 414.1L1171.1 411.1L1173.9 408.3L1176.6 405.7L1179.4 403.1L1182.1 400.7L1184.9 398.4L1187.6 396.2L1190.4 394.0L1193.1 391.9L1195.9 389.8L1198.7 387.8L1201.4 385.8L1204.2 383.9L1206.9 382.1L1209.7 380.4L1212.4 378.9L1215.2 377.4L1217.9 376.0L1220.7 374.7L1223.4 373.4L1226.2 372.2L1229.0 371.0L1231.7 369.9L1234.5 368.8L1237.2 367.8L1240.0 366.8L1242.7 365.9L1245.5 365.1L1248.2 364.3L1251.0 363.7L1253.7 363.1L1256.5 362.5L1259.2 362.0L1262.0 361.5L1264.8 361.0L1267.5 360.5L1270.3 360.1L1273.0 359.6L1275.8 359.2L1278.5 358.8L1281.3 358.4L1284.0 358.0L1286.8 357.7L1289.5 357.3L1292.3 357.0L1295.0 356.7L1297.8 356.3L1300.6 356.0L1303.3 355.7L1306.1 355.4L1308.8 355.1L1311.6 354.8L1314.3 354.5L1317.1 354.3L1319.8 354.0L1322.6 353.8L1325.3 353.6L1328.1 353.4L1330.8 353.2L1333.6 353.1L1336.4 352.9L1339.1 352.8L1341.9 352.7L1344.6 352.5L1347.4 352.4L1350.1 352.3L1352.9 352.2L1355.6 352.0L1358.4 351.9L1361.1 351.8L1363.9 351.7L1366.7 351.6L1369.4 351.5L1372.2 351.5L1374.9 351.4L1377.7 351.3L1380.4 351.2L1383.2 351.2L1385.9 351.1L1388.7 351.1L1391.4 351.0L1394.2 351.0L1396.9 351.0L1399.7 350.9" stroke="#E9812A"/>
<path d="M1127.1 508.0L1129.8 482.9L1132.6 463.9L1135.3 449.2L1138.1 435.4L1140.8 423.7L1143.6 414.2L1146.3 406.0L1149.1 399.0L1151.8 393.4L1154.6 388.8L1157.3 385.0L1160.1 381.7L1162.9 378.9L1165.6 376.3L1168.4 374.0L1171.1 372.0L1173.9 370.3L1176.6 368.7L1179.4 367.3L1182.1 366.1L1184.9 365.0L1187.6 364.1L1190.4 363.3L1193.1 362.6L1195.9 361.9L1198.7 361.2L1201.4 360.6L1204.2 359.9L1206.9 359.3L1209.7 358.7L1212.4 358.2L1215.2 357.7L1217.9 357.2L1220.7 356.7L1223.4 356.3L1226.2 355.9L1229.0 355.6L1231.7 355.2L1234.5 354.9L1237.2 354.6L1240.0 354.3L1242.7 354.1L1245.5 353.8L1248.2 353.6L1251.0 353.3L1253.7 353.1L1256.5 352.9L1259.2 352.7L1262.0 352.5L1264.8 352.3L1267.5 352.1L1270.3 351.9L1273.0 351.7L1275.8 351.5L1278.5 351.4L1281.3 351.2L1284.0 351.0L1286.8 350.9L1289.5 350.7L1292.3 350.6L1295.0 350.4L1297.8 350.3L1300.6 350.2L1303.3 350.0L1306.1 349.8L1308.8 349.7L1311.6 349.5L1314.3 349.4L1317.1 349.3L1319.8 349.2L1322.6 349.1L1325.3 349.0L1328.1 348.9L1330.8 348.8L1333.6 348.8L1336.4 348.8L1339.1 348.7L1341.9 348.7L1344.6 348.6L1347.4 348.6L1350.1 348.6L1352.9 348.5L1355.6 348.5L1358.4 348.5L1361.1 348.5L1363.9 348.4L1366.7 348.4L1369.4 348.4L1372.2 348.4L1374.9 348.3L1377.7 348.3L1380.4 348.3L1383.2 348.3L1385.9 348.3L1388.7 348.3L1391.4 348.3L1394.2 348.3L1396.9 348.3L1399.7 348.3" stroke="#DA8F00"/>
<path d="M1127.1 374.1L1129.8 349.2L1132.6 345.4" stroke="#00BA38"/>
<path d="M1127.1 494.6L1129.8 467.4L1132.6 445.7L1135.3 425.9L1138.1 411.1L1140.8 399.2L1143.6 390.3L1146.3 383.1L1149.1 377.1L1151.8 372.1L1154.6 368.1L1157.3 365.0L1160.1 362.6L1162.9 360.5L1165.6 358.7L1168.4 357.2L1171.1 355.9L1173.9 354.8L1176.6 353.8L1179.4 353.1L1182.1 352.4L1184.9 351.7L1187.6 351.1L1190.4 350.6L1193.1 350.1L1195.9 349.6L1198.7 349.2L1201.4 348.8L1204.2 348.4L1206.9 348.1L1209.7 347.8L1212.4 347.5L1215.2 347.3L1217.9 347.0L1220.7 346.9L1223.4 346.7L1226.2 346.6L1229.0 346.5L1231.7 346.4L1234.5 346.4" stroke="#00BE6D"/>
<path d="M1127.1 488.9L1129.8 464.9L1132.6 443.3L1135.3 422.7L1138.1 406.4L1140.8 393.9L1143.6 384.8L1146.3 377.4L1149.1 371.5L1151.8 367.0L1154.6 363.6L1157.3 360.9L1160.1 358.7L1162.9 356.8L1165.6 355.3L1168.4 354.0L1171.1 353.1L1173.9 352.2L1176.6 351.5L1179.4 350.8L1182.1 350.1L1184.9 349.5L1187.6 349.0L1190.4 348.5L1193.1 348.1L1195.9 347.7L1198.7 347.4L1201.4 347.1L1204.2 346.8L1206.9 346.6L1209.7 346.5L1212.4 346.3L1215.2 346.2L1217.9 346.2L1220.7 346.2" stroke="#00C094"/>
<path d="M1127.1 509.9L1129.8 489.7L1132.6 472.0L1135.3 457.9L1138.1 445.9L1140.8 433.5L1143.6 422.7L1146.3 413.5L1149.1 405.2L1151.8 398.0L1154.6 391.9L1157.3 386.4L1160.1 381.4L1162.9 376.8L1165.6 372.9L1168.4 369.5L1171.1 366.7L1173.9 364.5L1176.6 362.7L1179.4 361.1L1182.1 359.7L1184.9 358.4L1187.6 357.3L1190.4 356.2L1193.1 355.3L1195.9 354.5L1198.7 353.8L1201.4 353.1L1204.2 352.6L1206.9 352.1L1209.7 351.7L1212.4 351.2L1215.2 350.9L1217.9 350.5L1220.7 350.2L1223.4 349.8L1226.2 349.5L1229.0 349.3L1231.7 349.0L1234.5 348.8L1237.2 348.6L1240.0 348.4L1242.7 348.2L1245.5 348.0L1248.2 347.9L1251.0 347.7L1253.7 347.6L1256.5 347.5L1259.2 347.4L1262.0 347.3L1264.8 347.2L1267.5 347.2L1270.3 347.1L1273.0 347.0L1275.8 347.0L1278.5 346.9L1281.3 346.9L1284.0 346.8L1286.8 346.7L1289.5 346.7L1292.3 346.6L1295.0 346.6L1297.8 346.5L1300.6 346.5L1303.3 346.4L1306.1 346.4L1308.8 346.4L1311.6 346.3L1314.3 346.3L1317.1 346.3L1319.8 346.2L1322.6 346.2L1325.3 346.2L1328.1 346.1L1330.8 346.1L1333.6 346.1L1336.4 346.0L1339.1 346.0L1341.9 346.0L1344.6 346.0L1347.4 346.0L1350.1 345.9L1352.9 345.9L1355.6 345.9L1358.4 345.9L1361.1 345.9L1363.9 345.9L1366.7 345.8L1369.4 345.8L1372.2 345.8L1374.9 345.8L1377.7 345.8L1380.4 345.8L1383.2 345.8L1385.9 345.8L1388.7 345.8L1391.4 345.8L1394.2 345.8L1396.9 345.8L1399.7 345.8" stroke="#00BDD2"/>
<path d="M1127.1 513.7L1129.8 492.6L1132.6 474.6L1135.3 460.3L1138.1 448.5L1140.8 436.4L1143.6 425.5L1146.3 416.4L1149.1 408.1L1151.8 400.8L1154.6 394.6L1157.3 389.4L1160.1 384.8L1162.9 380.6L1165.6 376.9L1168.4 373.5L1171.1 370.6L1173.9 367.9L1176.6 365.6L1179.4 363.5L1182.1 361.8L1184.9 360.3L1187.6 359.0L1190.4 357.8L1193.1 356.6L1195.9 355.6L1198.7 354.6L1201.4 353.7L1204.2 353.0L1206.9 352.3L1209.7 351.7L1212.4 351.2L1215.2 350.7L1217.9 350.3L1220.7 350.0L1223.4 349.6L1226.2 349.4L1229.0 349.1L1231.7 348.9L1234.5 348.7L1237.2 348.5L1240.0 348.3L1242.7 348.1L1245.5 348.0L1248.2 347.8L1251.0 347.7L1253.7 347.6L1256.5 347.5L1259.2 347.4L1262.0 347.3L1264.8 347.2L1267.5 347.2L1270.3 347.1L1273.0 347.0L1275.8 347.0L1278.5 346.9L1281.3 346.9L1284.0 346.8L1286.8 346.8L1289.5 346.7L1292.3 346.6L1295.0 346.6L1297.8 346.6L1300.6 346.5L1303.3 346.5L1306.1 346.4L1308.8 346.4L1311.6 346.3L1314.3 346.3L1317.1 346.3L1319.8 346.2L1322.6 346.2L1325.3 346.2L1328.1 346.1L1330.8 346.1L1333.6 346.1L1336.4 346.1L1339.1 346.0L1341.9 346.0L1344.6 346.0L1347.4 346.0L1350.1 345.9L1352.9 345.9L1355.6 345.9L1358.4 345.9L1361.1 345.9L1363.9 345.9L1366.7 345.9L1369.4 345.8L1372.2 345.8L1374.9 345.8L1377.7 345.8L1380.4 345.8L1383.2 345.8L1385.9 345.8L1388.7 345.8L1391.4 345.8L1394.2 345.8L1396.9 345.8L1399.7 345.8" stroke="#00ABFD"/>
<path d="M1127.1 483.1L1129.8 431.5L1132.6 399.0L1135.3 381.5L1138.1 372.2L1140.8 368.3L1143.6 365.8L1146.3 363.2L1149.1 360.6L1151.8 358.3L1154.6 356.4L1157.3 355.0L1160.1 353.8L1162.9 352.9L1165.6 352.0L1168.4 351.3L1171.1 350.6L1173.9 350.1L1176.6 349.6L1179.4 349.2L1182.1 348.9L1184.9 348.5L1187.6 348.2L1190.4 347.9L1193.1 347.7L1195.9 347.4L1198.7 347.2L1201.4 347.0L1204.2 346.8L1206.9 346.6L1209.7 346.4L1212.4 346.3L1215.2 346.1L1217.9 346.0L1220.7 345.9L1223.4 345.8L1226.2 345.7L1229.0 345.6L1231.7 345.6L1234.5 345.5L1237.2 345.4L1240.0 345.4" stroke="#A58AFF"/>
<path d="M1127.1 488.9L1129.8 441.0L1132.6 407.0L1135.3 387.4L1138.1 375.9L1140.8 368.0L1143.6 362.5L1146.3 358.4L1149.1 355.3L1151.8 353.1L1154.6 351.3L1157.3 349.9L1160.1 348.7L1162.9 347.9L1165.6 347.3L1168.4 346.9L1171.1 346.6L1173.9 346.3L1176.6 346.0L1179.4 345.8L1182.1 345.7L1184.9 345.6L1187.6 345.5L1190.4 345.4L1193.1 345.4" stroke="#D078FF"/>
<path d="M1127.1 412.4L1129.8 360.7L1132.6 351.1L1135.3 347.7L1138.1 346.4L1140.8 346.0L1143.6 345.8L1146.3 345.7L1149.1 345.6L1151.8 345.5L1154.6 345.5L1157.3 345.4L1160.1 345.4L1162.9 345.4" stroke="#EC69EF"/>
<path d="M1127.1 467.8L1129.8 410.4L1132.6 364.5L1135.3 353.1L1138.1 349.2L1140.8 347.3L1143.6 346.3L1146.3 345.6L1149.1 345.4" stroke="#EC69EF"/>
<path d="M1127.1 450.6L1129.8 393.2L1132.6 358.8L1135.3 350.2L1138.1 347.4L1140.8 345.9L1143.6 345.4" stroke="#FB61D7"/>
<path d="M1127.1 402.8L1129.8 355.0L1132.6 347.3L1135.3 346.4L1138.1 345.9L1140.8 345.6L1143.6 345.5L1146.3 345.4L1149.1 345.4" stroke="#FF63B9"/>
<path d="M1127.1 469.7L1129.8 431.5L1132.6 379.8L1135.3 357.3L1138.1 350.2L1140.8 348.1L1143.6 347.0L1146.3 346.4L1149.1 345.9L1151.8 345.6L1154.6 345.5L1157.3 345.4" stroke="#FF63B9"/>
<path d="M1127.1 418.1L1129.8 358.8L1132.6 348.3L1135.3 346.4L1138.1 345.6L1140.8 345.4" stroke="#FF63B9"/>
<path d="M1127.1 469.7L1129.8 383.7L1132.6 358.8L1135.3 353.1L1138.1 349.9L1140.8 348.3L1143.6 347.6L1146.3 347.1L1149.1 346.6L1151.8 346.3L1154.6 346.1L1157.3 345.9L1160.1 345.7L1162.9 345.6L1165.6 345.5L1168.4 345.5L1171.1 345.4L1173.9 345.4" stroke="#FF6B96"/>
<line x1="1110.2" y1="364.53" x2="1413.9" y2="364.53" stroke="#000" stroke-width="3.0" stroke-dasharray="10.4 9.9"/>
</g>
<rect x="1110.2" y="336.3" width="303.7" height="1.4" fill="#2a2a2a"/>
<rect x="1110.2" y="532.7" width="303.7" height="1.8" fill="#2a2a2a"/>
<rect x="1110.2" y="336.3" width="1.8" height="198.2" fill="#2a2a2a"/>
<rect x="1412.1" y="336.3" width="1.8" height="198.2" fill="#2a2a2a"/>
<line x1="1103.4" y1="517.57" x2="1110.2" y2="517.57" stroke="#2a2a2a" stroke-width="2.9"/>
<text x="1097.9" y="524.77" font-size="21.4" fill="#4d4d4d" text-anchor="end">0.1</text>
<line x1="1103.4" y1="498.44" x2="1110.2" y2="498.44" stroke="#2a2a2a" stroke-width="2.9"/>
<text x="1097.9" y="505.64" font-size="21.4" fill="#4d4d4d" text-anchor="end">0.2</text>
<line x1="1103.4" y1="479.31" x2="1110.2" y2="479.31" stroke="#2a2a2a" stroke-width="2.9"/>
<text x="1097.9" y="486.51" font-size="21.4" fill="#4d4d4d" text-anchor="end">0.3</text>
<line x1="1103.4" y1="460.18" x2="1110.2" y2="460.18" stroke="#2a2a2a" stroke-width="2.9"/>
<text x="1097.9" y="467.38" font-size="21.4" fill="#4d4d4d" text-anchor="end">0.4</text>
<line x1="1103.4" y1="441.05" x2="1110.2" y2="441.05" stroke="#2a2a2a" stroke-width="2.9"/>
<text x="1097.9" y="448.25" font-size="21.4" fill="#4d4d4d" text-anchor="end">0.5</text>
<line x1="1103.4" y1="421.92" x2="1110.2" y2="421.92" stroke="#2a2a2a" stroke-width="2.9"/>
<text x="1097.9" y="429.12" font-size="21.4" fill="#4d4d4d" text-anchor="end">0.6</text>
<line x1="1103.4" y1="402.79" x2="1110.2" y2="402.79" stroke="#2a2a2a" stroke-width="2.9"/>
<text x="1097.9" y="409.99" font-size="21.4" fill="#4d4d4d" text-anchor="end">0.7</text>
<line x1="1103.4" y1="383.66" x2="1110.2" y2="383.66" stroke="#2a2a2a" stroke-width="2.9"/>
<text x="1097.9" y="390.86" font-size="21.4" fill="#4d4d4d" text-anchor="end">0.8</text>
<line x1="1103.4" y1="364.53" x2="1110.2" y2="364.53" stroke="#2a2a2a" stroke-width="2.9"/>
<text x="1097.9" y="371.73" font-size="21.4" fill="#4d4d4d" text-anchor="end">0.9</text>
<line x1="1103.4" y1="345.4" x2="1110.2" y2="345.4" stroke="#2a2a2a" stroke-width="2.9"/>
<text x="1097.9" y="352.6" font-size="21.4" fill="#4d4d4d" text-anchor="end">1.0</text>
<line x1="1124.3" y1="534.5" x2="1124.3" y2="541.3" stroke="#2a2a2a" stroke-width="2.9"/>
<text x="1124.3" y="561.8" font-size="21.4" fill="#4d4d4d" text-anchor="middle">0</text>
<line x1="1193.15" y1="534.5" x2="1193.15" y2="541.3" stroke="#2a2a2a" stroke-width="2.9"/>
<text x="1193.15" y="561.8" font-size="21.4" fill="#4d4d4d" text-anchor="middle">25</text>
<line x1="1262" y1="534.5" x2="1262" y2="541.3" stroke="#2a2a2a" stroke-width="2.9"/>
<text x="1262" y="561.8" font-size="21.4" fill="#4d4d4d" text-anchor="middle">50</text>
<line x1="1330.85" y1="534.5" x2="1330.85" y2="541.3" stroke="#2a2a2a" stroke-width="2.9"/>
<text x="1330.85" y="561.8" font-size="21.4" fill="#4d4d4d" text-anchor="middle">75</text>
<line x1="1399.7" y1="534.5" x2="1399.7" y2="541.3" stroke="#2a2a2a" stroke-width="2.9"/>
<text x="1399.7" y="561.8" font-size="21.4" fill="#4d4d4d" text-anchor="middle">100</text>
<rect x="1426" y="295.1" width="303.6" height="41.2" fill="#d9d9d9"/>
<rect x="1426" y="295.1" width="303.6" height="1.8" fill="#2a2a2a"/>
<rect x="1426" y="334.9" width="303.6" height="1.4" fill="#2a2a2a"/>
<rect x="1426" y="295.1" width="1.8" height="41.2" fill="#2a2a2a"/>
<rect x="1727.8" y="295.1" width="1.8" height="41.2" fill="#2a2a2a"/>
<text x="1577.8" y="323.9" font-size="21.4" fill="#1a1a1a" text-anchor="middle">EUR</text>
<line x1="1426" y1="527.13" x2="1729.6" y2="527.13" stroke="#ebebeb" stroke-width="1.4"/>
<line x1="1426" y1="508" x2="1729.6" y2="508" stroke="#ebebeb" stroke-width="1.4"/>
<line x1="1426" y1="488.88" x2="1729.6" y2="488.88" stroke="#ebebeb" stroke-width="1.4"/>
<line x1="1426" y1="469.74" x2="1729.6" y2="469.74" stroke="#ebebeb" stroke-width="1.4"/>
<line x1="1426" y1="450.62" x2="1729.6" y2="450.62" stroke="#ebebeb" stroke-width="1.4"/>
<line x1="1426" y1="431.48" x2="1729.6" y2="431.48" stroke="#ebebeb" stroke-width="1.4"/>
<line x1="1426" y1="412.35" x2="1729.6" y2="412.35" stroke="#ebebeb" stroke-width="1.4"/>
<line x1="1426" y1="393.22" x2="1729.6" y2="393.22" stroke="#ebebeb" stroke-width="1.4"/>
<line x1="1426" y1="374.09" x2="1729.6" y2="374.09" stroke="#ebebeb" stroke-width="1.4"/>
<line x1="1426" y1="354.96" x2="1729.6" y2="354.96" stroke="#ebebeb" stroke-width="1.4"/>
<line x1="1474.52" y1="336.3" x2="1474.52" y2="534.5" stroke="#ebebeb" stroke-width="1.4"/>
<line x1="1543.38" y1="336.3" x2="1543.38" y2="534.5" stroke="#ebebeb" stroke-width="1.4"/>
<line x1="1612.22" y1="336.3" x2="1612.22" y2="534.5" stroke="#ebebeb" stroke-width="1.4"/>
<line x1="1681.07" y1="336.3" x2="1681.07" y2="534.5" stroke="#ebebeb" stroke-width="1.4"/>
<line x1="1426" y1="517.57" x2="1729.6" y2="517.57" stroke="#ebebeb" stroke-width="2.8"/>
<line x1="1426" y1="498.44" x2="1729.6" y2="498.44" stroke="#ebebeb" stroke-width="2.8"/>
<line x1="1426" y1="479.31" x2="1729.6" y2="479.31" stroke="#ebebeb" stroke-width="2.8"/>
<line x1="1426" y1="460.18" x2="1729.6" y2="460.18" stroke="#ebebeb" stroke-width="2.8"/>
<line x1="1426" y1="441.05" x2="1729.6" y2="441.05" stroke="#ebebeb" stroke-width="2.8"/>
<line x1="1426" y1="421.92" x2="1729.6" y2="421.92" stroke="#ebebeb" stroke-width="2.8"/>
<line x1="1426" y1="402.79" x2="1729.6" y2="402.79" stroke="#ebebeb" stroke-width="2.8"/>
<line x1="1426" y1="383.66" x2="1729.6" y2="383.66" stroke="#ebebeb" stroke-width="2.8"/>
<line x1="1426" y1="364.53" x2="1729.6" y2="364.53" stroke="#ebebeb" stroke-width="2.8"/>
<line x1="1426" y1="345.4" x2="1729.6" y2="345.4" stroke="#ebebeb" stroke-width="2.8"/>
<line x1="1440.1" y1="336.3" x2="1440.1" y2="534.5" stroke="#ebebeb" stroke-width="2.8"/>
<line x1="1508.95" y1="336.3" x2="1508.95" y2="534.5" stroke="#ebebeb" stroke-width="2.8"/>
<line x1="1577.8" y1="336.3" x2="1577.8" y2="534.5" stroke="#ebebeb" stroke-width="2.8"/>
<line x1="1646.65" y1="336.3" x2="1646.65" y2="534.5" stroke="#ebebeb" stroke-width="2.8"/>
<line x1="1715.5" y1="336.3" x2="1715.5" y2="534.5" stroke="#ebebeb" stroke-width="2.8"/>
<g clip-path="url(#cp4)" fill="none" stroke-width="3.3" stroke-linejoin="round" stroke-linecap="butt">
<path d="M1442.9 488.9L1445.6 469.4L1448.4 452.0L1451.1 435.4L1453.9 419.6L1456.6 402.9L1459.4 391.9L1462.1 386.6L1464.9 383.1L1467.6 380.3L1470.4 377.9L1473.1 375.7L1475.9 373.8L1478.7 372.0L1481.4 370.5L1484.2 369.1L1486.9 367.8L1489.7 366.8L1492.4 365.8L1495.2 364.9L1497.9 364.2L1500.7 363.5L1503.4 362.8L1506.2 362.2L1508.9 361.6L1511.7 361.1L1514.5 360.6L1517.2 360.1L1520.0 359.7L1522.7 359.2L1525.5 358.8L1528.2 358.5L1531.0 358.1L1533.7 357.8L1536.5 357.4L1539.2 357.1L1542.0 356.8L1544.8 356.6L1547.5 356.3L1550.3 356.0L1553.0 355.8L1555.8 355.6L1558.5 355.3L1561.3 355.1L1564.0 354.9L1566.8 354.7L1569.5 354.5L1572.3 354.3L1575.0 354.2L1577.8 354.0L1580.6 353.8L1583.3 353.7L1586.1 353.5L1588.8 353.4L1591.6 353.2L1594.3 353.1L1597.1 353.0L1599.8 352.8L1602.6 352.7L1605.3 352.6L1608.1 352.5L1610.8 352.3L1613.6 352.2L1616.4 352.1L1619.1 352.0L1621.9 351.9L1624.6 351.8L1627.4 351.7L1630.1 351.6L1632.9 351.5L1635.6 351.4L1638.4 351.3L1641.1 351.2L1643.9 351.2L1646.6 351.1L1649.4 351.0L1652.2 350.9L1654.9 350.8L1657.7 350.8L1660.4 350.7L1663.2 350.6L1665.9 350.6L1668.7 350.5L1671.4 350.4L1674.2 350.4L1676.9 350.3L1679.7 350.2L1682.5 350.2L1685.2 350.1L1688.0 350.1L1690.7 350.0L1693.5 350.0L1696.2 349.9L1699.0 349.9L1701.7 349.8L1704.5 349.8L1707.2 349.7L1710.0 349.7L1712.7 349.6L1715.5 349.6" stroke="#F8766D"/>
<path d="M1442.9 504.2L1445.6 487.5L1448.4 470.5L1451.1 456.7L1453.9 444.1L1456.6 430.4L1459.4 419.9L1462.1 411.8L1464.9 405.0L1467.6 399.2L1470.4 394.1L1473.1 389.7L1475.9 385.8L1478.7 382.2L1481.4 379.1L1484.2 376.4L1486.9 374.1L1489.7 372.1L1492.4 370.4L1495.2 368.8L1497.9 367.4L1500.7 366.2L1503.4 365.1L1506.2 364.2L1508.9 363.3L1511.7 362.5L1514.5 361.8L1517.2 361.1L1520.0 360.4L1522.7 359.8L1525.5 359.2L1528.2 358.7L1531.0 358.2L1533.7 357.8L1536.5 357.4L1539.2 357.0L1542.0 356.7L1544.8 356.4L1547.5 356.2L1550.3 355.9L1553.0 355.7L1555.8 355.5L1558.5 355.3L1561.3 355.1L1564.0 354.9L1566.8 354.7L1569.5 354.5L1572.3 354.4L1575.0 354.2L1577.8 354.0L1580.6 353.9L1583.3 353.7L1586.1 353.6L1588.8 353.4L1591.6 353.3L1594.3 353.2L1597.1 353.0L1599.8 352.9L1602.6 352.8L1605.3 352.7L1608.1 352.6L1610.8 352.5L1613.6 352.4L1616.4 352.3L1619.1 352.2L1621.9 352.1L1624.6 352.0L1627.4 351.9L1630.1 351.8L1632.9 351.8L1635.6 351.7L1638.4 351.6L1641.1 351.5L1643.9 351.5L1646.6 351.4L1649.4 351.4L1652.2 351.3L1654.9 351.3L1657.7 351.2L1660.4 351.2L1663.2 351.1L1665.9 351.1L1668.7 351.0L1671.4 351.0L1674.2 351.0L1676.9 350.9L1679.7 350.9L1682.5 350.9L1685.2 350.9L1688.0 350.9L1690.7 350.8L1693.5 350.8L1696.2 350.8L1699.0 350.8L1701.7 350.8L1704.5 350.8L1707.2 350.8L1710.0 350.8L1712.7 350.8L1715.5 350.8" stroke="#E9812A"/>
<path d="M1442.9 494.6L1445.6 472.3L1448.4 453.6L1451.1 436.6L1453.9 421.3L1456.6 407.8L1459.4 396.4L1462.1 387.9L1464.9 381.2L1467.6 376.0L1470.4 371.7L1473.1 368.1L1475.9 365.5L1478.7 363.8L1481.4 362.4L1484.2 361.3L1486.9 360.3L1489.7 359.4L1492.4 358.6L1495.2 357.9L1497.9 357.3L1500.7 356.8L1503.4 356.3L1506.2 355.9L1508.9 355.5L1511.7 355.1L1514.5 354.8L1517.2 354.5L1520.0 354.3L1522.7 354.0L1525.5 353.8L1528.2 353.6L1531.0 353.3L1533.7 353.1L1536.5 352.9L1539.2 352.7L1542.0 352.6L1544.8 352.4L1547.5 352.2L1550.3 352.0L1553.0 351.9L1555.8 351.7L1558.5 351.6L1561.3 351.4L1564.0 351.3L1566.8 351.2L1569.5 351.0L1572.3 350.9L1575.0 350.8L1577.8 350.7L1580.6 350.6L1583.3 350.4L1586.1 350.3L1588.8 350.2L1591.6 350.2L1594.3 350.1L1597.1 350.0L1599.8 349.9L1602.6 349.8L1605.3 349.7L1608.1 349.7L1610.8 349.6L1613.6 349.5L1616.4 349.4L1619.1 349.4L1621.9 349.3L1624.6 349.3L1627.4 349.2L1630.1 349.2L1632.9 349.1L1635.6 349.1L1638.4 349.0L1641.1 349.0L1643.9 348.9L1646.6 348.9L1649.4 348.9L1652.2 348.8L1654.9 348.8L1657.7 348.8L1660.4 348.7L1663.2 348.7L1665.9 348.7L1668.7 348.6L1671.4 348.6L1674.2 348.6L1676.9 348.6L1679.7 348.6L1682.5 348.5L1685.2 348.5L1688.0 348.5L1690.7 348.5L1693.5 348.5L1696.2 348.5L1699.0 348.5L1701.7 348.5L1704.5 348.5L1707.2 348.5L1710.0 348.5L1712.7 348.5L1715.5 348.5" stroke="#DA8F00"/>
<path d="M1442.9 377.9L1445.6 350.2L1448.4 345.4" stroke="#A9A400"/>
<path d="M1442.9 441.0L1445.6 410.4L1448.4 391.3L1451.1 358.8L1453.9 352.1L1456.6 350.0L1459.4 349.2" stroke="#00BA38"/>
<path d="M1442.9 479.3L1445.6 459.0L1448.4 429.1L1451.1 398.2L1453.9 381.7L1456.6 371.8L1459.4 365.5L1462.1 361.4L1464.9 358.3L1467.6 356.0L1470.4 354.3L1473.1 353.1L1475.9 352.1L1478.7 351.2L1481.4 350.5L1484.2 349.8L1486.9 349.1L1489.7 348.6L1492.4 348.1L1495.2 347.7L1497.9 347.3L1500.7 347.0L1503.4 346.8L1506.2 346.5L1508.9 346.4L1511.7 346.2L1514.5 346.1L1517.2 346.0L1520.0 346.0L1522.7 346.0" stroke="#00BE6D"/>
<path d="M1442.9 483.1L1445.6 463.0L1448.4 438.7L1451.1 413.6L1453.9 398.7L1456.6 389.6L1459.4 377.9L1462.1 371.9L1464.9 367.7L1467.6 364.5L1470.4 361.9L1473.1 359.6L1475.9 357.8L1478.7 356.2L1481.4 355.0L1484.2 353.9L1486.9 352.9L1489.7 352.0L1492.4 351.2L1495.2 350.5L1497.9 349.9L1500.7 349.4L1503.4 348.9L1506.2 348.6L1508.9 348.3L1511.7 348.0L1514.5 347.8L1517.2 347.5L1520.0 347.3L1522.7 347.1L1525.5 347.0L1528.2 346.8L1531.0 346.6L1533.7 346.5L1536.5 346.4L1539.2 346.2L1542.0 346.1L1544.8 346.1L1547.5 346.0L1550.3 345.9L1553.0 345.9L1555.8 345.8L1558.5 345.8L1561.3 345.8L1564.0 345.8" stroke="#00C094"/>
<path d="M1442.9 512.8L1445.6 494.2L1448.4 477.1L1451.1 463.3L1453.9 452.0L1456.6 440.4L1459.4 429.1L1462.1 420.3L1464.9 413.4L1467.6 407.5L1470.4 402.1L1473.1 397.0L1475.9 391.9L1478.7 386.4L1481.4 380.7L1484.2 375.3L1486.9 370.6L1489.7 366.8L1492.4 364.1L1495.2 361.9L1497.9 360.0L1500.7 358.4L1503.4 357.0L1506.2 355.9L1508.9 355.0L1511.7 354.2L1514.5 353.4L1517.2 352.8L1520.0 352.2L1522.7 351.6L1525.5 351.1L1528.2 350.6L1531.0 350.2L1533.7 349.8L1536.5 349.5L1539.2 349.2L1542.0 348.9L1544.8 348.7L1547.5 348.4L1550.3 348.3L1553.0 348.1L1555.8 348.0L1558.5 347.8L1561.3 347.7L1564.0 347.6L1566.8 347.5L1569.5 347.4L1572.3 347.3L1575.0 347.2L1577.8 347.1L1580.6 347.0L1583.3 346.9L1586.1 346.8L1588.8 346.7L1591.6 346.7L1594.3 346.6L1597.1 346.6L1599.8 346.5L1602.6 346.4L1605.3 346.4L1608.1 346.3L1610.8 346.3L1613.6 346.2L1616.4 346.2L1619.1 346.2L1621.9 346.1L1624.6 346.1L1627.4 346.0L1630.1 346.0L1632.9 346.0L1635.6 345.9L1638.4 345.9L1641.1 345.9L1643.9 345.9L1646.6 345.8L1649.4 345.8L1652.2 345.8L1654.9 345.7L1657.7 345.7L1660.4 345.7L1663.2 345.7L1665.9 345.7L1668.7 345.6L1671.4 345.6L1674.2 345.6L1676.9 345.6L1679.7 345.6L1682.5 345.5L1685.2 345.5L1688.0 345.5L1690.7 345.5L1693.5 345.5L1696.2 345.5L1699.0 345.5L1701.7 345.4L1704.5 345.4L1707.2 345.4L1710.0 345.4L1712.7 345.4L1715.5 345.4" stroke="#00BDD2"/>
<path d="M1442.9 508.0L1445.6 482.7L1448.4 463.0L1451.1 447.5L1453.9 432.9L1456.6 420.4L1459.4 409.3L1462.1 399.6L1464.9 391.9L1467.6 385.5L1470.4 380.2L1473.1 376.0L1475.9 372.6L1478.7 369.7L1481.4 367.3L1484.2 365.4L1486.9 363.8L1489.7 362.4L1492.4 361.1L1495.2 360.0L1497.9 358.9L1500.7 358.0L1503.4 357.2L1506.2 356.4L1508.9 355.7L1511.7 355.1L1514.5 354.5L1517.2 354.0L1520.0 353.5L1522.7 353.1L1525.5 352.6L1528.2 352.3L1531.0 351.9L1533.7 351.6L1536.5 351.2L1539.2 350.9L1542.0 350.6L1544.8 350.4L1547.5 350.1L1550.3 349.9L1553.0 349.6L1555.8 349.4L1558.5 349.2L1561.3 349.1L1564.0 348.9L1566.8 348.7L1569.5 348.6L1572.3 348.5L1575.0 348.4L1577.8 348.3L1580.6 348.2L1583.3 348.1L1586.1 348.0L1588.8 347.9L1591.6 347.8L1594.3 347.7L1597.1 347.7L1599.8 347.6L1602.6 347.5L1605.3 347.4L1608.1 347.4L1610.8 347.3L1613.6 347.2L1616.4 347.2L1619.1 347.1L1621.9 347.1L1624.6 347.0L1627.4 346.9L1630.1 346.9L1632.9 346.8L1635.6 346.8L1638.4 346.7L1641.1 346.7L1643.9 346.7L1646.6 346.6L1649.4 346.6L1652.2 346.5L1654.9 346.5L1657.7 346.5L1660.4 346.4L1663.2 346.4L1665.9 346.4L1668.7 346.4L1671.4 346.3L1674.2 346.3L1676.9 346.3L1679.7 346.3L1682.5 346.3L1685.2 346.2L1688.0 346.2L1690.7 346.2L1693.5 346.2L1696.2 346.2L1699.0 346.2L1701.7 346.2L1704.5 346.2L1707.2 346.2L1710.0 346.2L1712.7 346.2L1715.5 346.2" stroke="#00ABFD"/>
<path d="M1442.9 469.7L1445.6 402.8L1448.4 379.8L1451.1 370.0L1453.9 364.5L1456.6 361.1L1459.4 358.7L1462.1 356.9L1464.9 355.3L1467.6 354.0L1470.4 353.0L1473.1 352.1L1475.9 351.4L1478.7 350.8L1481.4 350.2L1484.2 349.7L1486.9 349.3L1489.7 348.9L1492.4 348.6L1495.2 348.3L1497.9 348.0L1500.7 347.7L1503.4 347.5L1506.2 347.3L1508.9 347.1L1511.7 346.9L1514.5 346.8L1517.2 346.6L1520.0 346.5L1522.7 346.4" stroke="#A58AFF"/>
<path d="M1442.9 456.4L1445.6 383.7L1448.4 358.8L1451.1 352.0L1453.9 349.2L1456.6 348.1L1459.4 347.4L1462.1 346.9L1464.9 346.6L1467.6 346.4L1470.4 346.2L1473.1 346.1L1475.9 346.0L1478.7 345.9L1481.4 345.8L1484.2 345.7L1486.9 345.7L1489.7 345.6L1492.4 345.6L1495.2 345.6L1497.9 345.5L1500.7 345.5L1503.4 345.5L1506.2 345.4L1508.9 345.4L1511.7 345.4L1514.5 345.4L1517.2 345.4L1520.0 345.4L1522.7 345.4L1525.5 345.4L1528.2 345.4L1531.0 345.4L1533.7 345.4L1536.5 345.4L1539.2 345.4L1542.0 345.4L1544.8 345.4L1547.5 345.4L1550.3 345.4L1553.0 345.4L1555.8 345.4L1558.5 345.4L1561.3 345.4L1564.0 345.4L1566.8 345.4L1569.5 345.4L1572.3 345.4L1575.0 345.4L1577.8 345.4L1580.6 345.4L1583.3 345.4L1586.1 345.4L1588.8 345.4L1591.6 345.4L1594.3 345.4L1597.1 345.4L1599.8 345.4L1602.6 345.4L1605.3 345.4L1608.1 345.4L1610.8 345.4L1613.6 345.4L1616.4 345.4L1619.1 345.4L1621.9 345.4L1624.6 345.4L1627.4 345.4L1630.1 345.4L1632.9 345.4L1635.6 345.4L1638.4 345.4L1641.1 345.4L1643.9 345.4L1646.6 345.4L1649.4 345.4L1652.2 345.4L1654.9 345.4L1657.7 345.4L1660.4 345.4L1663.2 345.4L1665.9 345.4L1668.7 345.4L1671.4 345.4L1674.2 345.4L1676.9 345.4L1679.7 345.4L1682.5 345.4L1685.2 345.4L1688.0 345.4L1690.7 345.4L1693.5 345.4L1696.2 345.4L1699.0 345.4L1701.7 345.4L1704.5 345.4L1707.2 345.4L1710.0 345.4L1712.7 345.4L1715.5 345.4" stroke="#D078FF"/>
<path d="M1442.9 456.4L1445.6 393.2L1448.4 368.4L1451.1 358.8L1453.9 353.9L1456.6 351.1L1459.4 349.6L1462.1 348.6L1464.9 347.8L1467.6 347.3L1470.4 346.9L1473.1 346.6L1475.9 346.3L1478.7 346.0L1481.4 345.8L1484.2 345.7L1486.9 345.5L1489.7 345.5L1492.4 345.4L1495.2 345.4L1497.9 345.4L1500.7 345.4L1503.4 345.4L1506.2 345.4L1508.9 345.4L1511.7 345.4L1514.5 345.4L1517.2 345.4L1520.0 345.4L1522.7 345.4L1525.5 345.4L1528.2 345.4L1531.0 345.4L1533.7 345.4L1536.5 345.4L1539.2 345.4L1542.0 345.4L1544.8 345.4L1547.5 345.4L1550.3 345.4L1553.0 345.4L1555.8 345.4L1558.5 345.4L1561.3 345.4L1564.0 345.4L1566.8 345.4L1569.5 345.4L1572.3 345.4L1575.0 345.4L1577.8 345.4L1580.6 345.4L1583.3 345.4L1586.1 345.4L1588.8 345.4L1591.6 345.4L1594.3 345.4" stroke="#EC69EF"/>
<path d="M1442.9 421.9L1445.6 364.5L1448.4 351.1L1451.1 347.6L1453.9 345.9L1456.6 345.4" stroke="#FB61D7"/>
<path d="M1442.9 431.5L1445.6 368.4L1448.4 353.1L1451.1 348.3L1453.9 346.4L1456.6 345.6L1459.4 345.4" stroke="#FB61D7"/>
<path d="M1442.9 441.0L1445.6 376.0L1448.4 356.9L1451.1 350.9L1453.9 348.3L1456.6 347.1L1459.4 346.3L1462.1 345.8L1464.9 345.5L1467.6 345.4L1470.4 345.4L1473.1 345.4L1475.9 345.4L1478.7 345.4L1481.4 345.4L1484.2 345.4L1486.9 345.4L1489.7 345.4L1492.4 345.4L1495.2 345.4L1497.9 345.4L1500.7 345.4L1503.4 345.4L1506.2 345.4L1508.9 345.4L1511.7 345.4L1514.5 345.4L1517.2 345.4L1520.0 345.4L1522.7 345.4L1525.5 345.4L1528.2 345.4L1531.0 345.4L1533.7 345.4L1536.5 345.4L1539.2 345.4L1542.0 345.4L1544.8 345.4L1547.5 345.4L1550.3 345.4L1553.0 345.4L1555.8 345.4L1558.5 345.4" stroke="#FF63B9"/>
<path d="M1442.9 441.0L1445.6 391.3L1448.4 358.8L1451.1 350.2L1453.9 347.4L1456.6 345.9L1459.4 345.4" stroke="#FF63B9"/>
<path d="M1442.9 418.1L1445.6 358.8L1448.4 348.3L1451.1 346.4L1453.9 345.6L1456.6 345.4" stroke="#FF63B9"/>
<path d="M1442.9 441.0L1445.6 402.8L1448.4 379.8L1451.1 368.4L1453.9 361.7L1456.6 357.1L1459.4 354.0L1462.1 351.9L1464.9 350.3L1467.6 349.2L1470.4 348.5L1473.1 348.0L1475.9 347.6L1478.7 347.2L1481.4 346.9L1484.2 346.7L1486.9 346.5L1489.7 346.2L1492.4 346.1L1495.2 345.9L1497.9 345.8L1500.7 345.7L1503.4 345.6L1506.2 345.5L1508.9 345.4" stroke="#FF6B96"/>
<line x1="1426" y1="364.53" x2="1729.6" y2="364.53" stroke="#000" stroke-width="3.0" stroke-dasharray="10.4 9.9"/>
</g>
<rect x="1426" y="336.3" width="303.6" height="1.4" fill="#2a2a2a"/>
<rect x="1426" y="532.7" width="303.6" height="1.8" fill="#2a2a2a"/>
<rect x="1426" y="336.3" width="1.8" height="198.2" fill="#2a2a2a"/>
<rect x="1727.8" y="336.3" width="1.8" height="198.2" fill="#2a2a2a"/>
<line x1="1440.1" y1="534.5" x2="1440.1" y2="541.3" stroke="#2a2a2a" stroke-width="2.9"/>
<text x="1440.1" y="561.8" font-size="21.4" fill="#4d4d4d" text-anchor="middle">0</text>
<line x1="1508.95" y1="534.5" x2="1508.95" y2="541.3" stroke="#2a2a2a" stroke-width="2.9"/>
<text x="1508.95" y="561.8" font-size="21.4" fill="#4d4d4d" text-anchor="middle">25</text>
<line x1="1577.8" y1="534.5" x2="1577.8" y2="541.3" stroke="#2a2a2a" stroke-width="2.9"/>
<text x="1577.8" y="561.8" font-size="21.4" fill="#4d4d4d" text-anchor="middle">50</text>
<line x1="1646.65" y1="534.5" x2="1646.65" y2="541.3" stroke="#2a2a2a" stroke-width="2.9"/>
<text x="1646.65" y="561.8" font-size="21.4" fill="#4d4d4d" text-anchor="middle">75</text>
<line x1="1715.5" y1="534.5" x2="1715.5" y2="541.3" stroke="#2a2a2a" stroke-width="2.9"/>
<text x="1715.5" y="561.8" font-size="21.4" fill="#4d4d4d" text-anchor="middle">100</text>
<rect x="1741.7" y="295.1" width="303.7" height="41.2" fill="#d9d9d9"/>
<rect x="1741.7" y="295.1" width="303.7" height="1.8" fill="#2a2a2a"/>
<rect x="1741.7" y="334.9" width="303.7" height="1.4" fill="#2a2a2a"/>
<rect x="1741.7" y="295.1" width="1.8" height="41.2" fill="#2a2a2a"/>
<rect x="2043.6" y="295.1" width="1.8" height="41.2" fill="#2a2a2a"/>
<text x="1893.55" y="323.9" font-size="21.4" fill="#1a1a1a" text-anchor="middle">SAS</text>
<line x1="1741.7" y1="527.13" x2="2045.4" y2="527.13" stroke="#ebebeb" stroke-width="1.4"/>
<line x1="1741.7" y1="508" x2="2045.4" y2="508" stroke="#ebebeb" stroke-width="1.4"/>
<line x1="1741.7" y1="488.88" x2="2045.4" y2="488.88" stroke="#ebebeb" stroke-width="1.4"/>
<line x1="1741.7" y1="469.74" x2="2045.4" y2="469.74" stroke="#ebebeb" stroke-width="1.4"/>
<line x1="1741.7" y1="450.62" x2="2045.4" y2="450.62" stroke="#ebebeb" stroke-width="1.4"/>
<line x1="1741.7" y1="431.48" x2="2045.4" y2="431.48" stroke="#ebebeb" stroke-width="1.4"/>
<line x1="1741.7" y1="412.35" x2="2045.4" y2="412.35" stroke="#ebebeb" stroke-width="1.4"/>
<line x1="1741.7" y1="393.22" x2="2045.4" y2="393.22" stroke="#ebebeb" stroke-width="1.4"/>
<line x1="1741.7" y1="374.09" x2="2045.4" y2="374.09" stroke="#ebebeb" stroke-width="1.4"/>
<line x1="1741.7" y1="354.96" x2="2045.4" y2="354.96" stroke="#ebebeb" stroke-width="1.4"/>
<line x1="1790.22" y1="336.3" x2="1790.22" y2="534.5" stroke="#ebebeb" stroke-width="1.4"/>
<line x1="1859.08" y1="336.3" x2="1859.08" y2="534.5" stroke="#ebebeb" stroke-width="1.4"/>
<line x1="1927.92" y1="336.3" x2="1927.92" y2="534.5" stroke="#ebebeb" stroke-width="1.4"/>
<line x1="1996.77" y1="336.3" x2="1996.77" y2="534.5" stroke="#ebebeb" stroke-width="1.4"/>
<line x1="1741.7" y1="517.57" x2="2045.4" y2="517.57" stroke="#ebebeb" stroke-width="2.8"/>
<line x1="1741.7" y1="498.44" x2="2045.4" y2="498.44" stroke="#ebebeb" stroke-width="2.8"/>
<line x1="1741.7" y1="479.31" x2="2045.4" y2="479.31" stroke="#ebebeb" stroke-width="2.8"/>
<line x1="1741.7" y1="460.18" x2="2045.4" y2="460.18" stroke="#ebebeb" stroke-width="2.8"/>
<line x1="1741.7" y1="441.05" x2="2045.4" y2="441.05" stroke="#ebebeb" stroke-width="2.8"/>
<line x1="1741.7" y1="421.92" x2="2045.4" y2="421.92" stroke="#ebebeb" stroke-width="2.8"/>
<line x1="1741.7" y1="402.79" x2="2045.4" y2="402.79" stroke="#ebebeb" stroke-width="2.8"/>
<line x1="1741.7" y1="383.66" x2="2045.4" y2="383.66" stroke="#ebebeb" stroke-width="2.8"/>
<line x1="1741.7" y1="364.53" x2="2045.4" y2="364.53" stroke="#ebebeb" stroke-width="2.8"/>
<line x1="1741.7" y1="345.4" x2="2045.4" y2="345.4" stroke="#ebebeb" stroke-width="2.8"/>
<line x1="1755.8" y1="336.3" x2="1755.8" y2="534.5" stroke="#ebebeb" stroke-width="2.8"/>
<line x1="1824.65" y1="336.3" x2="1824.65" y2="534.5" stroke="#ebebeb" stroke-width="2.8"/>
<line x1="1893.5" y1="336.3" x2="1893.5" y2="534.5" stroke="#ebebeb" stroke-width="2.8"/>
<line x1="1962.35" y1="336.3" x2="1962.35" y2="534.5" stroke="#ebebeb" stroke-width="2.8"/>
<line x1="2031.2" y1="336.3" x2="2031.2" y2="534.5" stroke="#ebebeb" stroke-width="2.8"/>
<g clip-path="url(#cp5)" fill="none" stroke-width="3.3" stroke-linejoin="round" stroke-linecap="butt">
<path d="M1758.6 509.9L1761.3 497.6L1764.1 481.7L1766.8 468.2L1769.6 456.9L1772.3 446.4L1775.1 433.7L1777.8 422.7L1780.6 413.8L1783.3 405.9L1786.1 399.3L1788.8 394.0L1791.6 390.1L1794.4 387.0L1797.1 384.5L1799.9 382.2L1802.6 380.1L1805.4 377.9L1808.1 375.7L1810.9 373.4L1813.6 371.2L1816.4 369.2L1819.1 367.3L1821.9 365.8L1824.6 364.5L1827.4 363.5L1830.2 362.5L1832.9 361.6L1835.7 360.8L1838.4 360.1L1841.2 359.4L1843.9 358.8L1846.7 358.2L1849.4 357.6L1852.2 357.1L1854.9 356.6L1857.7 356.2L1860.5 355.7L1863.2 355.3L1866.0 355.0L1868.7 354.6L1871.5 354.3L1874.2 353.9L1877.0 353.6L1879.7 353.3L1882.5 353.0L1885.2 352.7L1888.0 352.5L1890.7 352.2L1893.5 352.0L1896.3 351.7L1899.0 351.5L1901.8 351.3L1904.5 351.1L1907.3 351.0L1910.0 350.8L1912.8 350.6L1915.5 350.5L1918.3 350.3L1921.0 350.2" stroke="#F8766D"/>
<path d="M1758.6 521.4L1761.3 510.2L1764.1 498.4L1766.8 487.1L1769.6 475.2L1772.3 464.0L1775.1 453.9L1777.8 443.3L1780.6 433.7L1783.3 425.9L1786.1 419.9L1788.8 415.2L1791.6 411.2L1794.4 407.6L1797.1 404.1L1799.9 400.9L1802.6 397.9L1805.4 395.2L1808.1 392.8L1810.9 390.6L1813.6 388.6L1816.4 386.8L1819.1 385.1L1821.9 383.5L1824.6 381.9L1827.4 380.4L1830.2 378.8L1832.9 377.2L1835.7 375.7L1838.4 374.3L1841.2 372.9L1843.9 371.6L1846.7 370.3L1849.4 369.1L1852.2 368.1L1854.9 367.1L1857.7 366.1L1860.5 365.3L1863.2 364.6L1866.0 363.9L1868.7 363.3L1871.5 362.7L1874.2 362.2L1877.0 361.6L1879.7 361.1L1882.5 360.6L1885.2 360.2L1888.0 359.8L1890.7 359.3L1893.5 359.0L1896.3 358.6L1899.0 358.2L1901.8 357.9L1904.5 357.6L1907.3 357.3L1910.0 357.0L1912.8 356.7L1915.5 356.4L1918.3 356.2L1921.0 355.9L1923.8 355.7L1926.5 355.5L1929.3 355.2L1932.1 355.0L1934.8 354.8L1937.6 354.6L1940.3 354.4L1943.1 354.2L1945.8 354.0L1948.6 353.8L1951.3 353.7L1954.1 353.5L1956.8 353.3L1959.6 353.1L1962.3 353.0L1965.1 352.8L1967.9 352.7L1970.6 352.5L1973.4 352.4L1976.1 352.3L1978.9 352.1L1981.6 352.0L1984.4 351.9L1987.1 351.8L1989.9 351.6L1992.6 351.5L1995.4 351.4L1998.2 351.3L2000.9 351.2L2003.7 351.1L2006.4 351.0L2009.2 350.9L2011.9 350.9L2014.7 350.8L2017.4 350.7L2020.2 350.6L2022.9 350.6L2025.7 350.5L2028.4 350.4L2031.2 350.4" stroke="#E9812A"/>
<path d="M1758.6 508.0L1761.3 485.6L1764.1 466.7L1766.8 452.0L1769.6 437.5L1772.3 424.8L1775.1 415.3L1777.8 407.5L1780.6 400.8L1783.3 395.0L1786.1 389.9L1788.8 385.3L1791.6 381.3L1794.4 377.9L1797.1 375.0L1799.9 372.3L1802.6 369.9L1805.4 367.8L1808.1 366.1L1810.9 364.8L1813.6 363.7L1816.4 362.7L1819.1 361.8L1821.9 360.9L1824.6 360.2L1827.4 359.5L1830.2 358.8L1832.9 358.3L1835.7 357.7L1838.4 357.2L1841.2 356.8L1843.9 356.3L1846.7 356.0L1849.4 355.6L1852.2 355.3L1854.9 355.0L1857.7 354.7L1860.5 354.4L1863.2 354.2L1866.0 354.0L1868.7 353.8L1871.5 353.6L1874.2 353.4L1877.0 353.3L1879.7 353.1L1882.5 352.9L1885.2 352.7L1888.0 352.6L1890.7 352.4L1893.5 352.3L1896.3 352.1L1899.0 352.0L1901.8 351.9L1904.5 351.7L1907.3 351.6L1910.0 351.5L1912.8 351.4L1915.5 351.2L1918.3 351.1L1921.0 351.0L1923.8 350.9L1926.5 350.8L1929.3 350.7L1932.1 350.6L1934.8 350.5L1937.6 350.5L1940.3 350.4L1943.1 350.3L1945.8 350.2L1948.6 350.2L1951.3 350.1L1954.1 350.0L1956.8 350.0L1959.6 349.9L1962.3 349.8L1965.1 349.8L1967.9 349.7L1970.6 349.7L1973.4 349.7L1976.1 349.6L1978.9 349.6L1981.6 349.5L1984.4 349.5L1987.1 349.5L1989.9 349.4L1992.6 349.4L1995.4 349.4L1998.2 349.4L2000.9 349.3L2003.7 349.3L2006.4 349.3L2009.2 349.3L2011.9 349.3L2014.7 349.3L2017.4 349.2L2020.2 349.2L2022.9 349.2L2025.7 349.2L2028.4 349.2L2031.2 349.2" stroke="#DA8F00"/>
<path d="M1758.6 374.1L1761.3 349.2L1764.1 345.4" stroke="#A9A400"/>
<path d="M1758.6 441.0L1761.3 383.7L1764.1 364.5L1766.8 358.4L1769.6 355.0L1772.3 352.4L1775.1 350.6L1777.8 349.2" stroke="#00BA38"/>
<path d="M1758.6 490.8L1761.3 471.7L1764.1 449.8L1766.8 422.7L1769.6 402.8L1772.3 389.9L1775.1 381.5L1777.8 375.2L1780.6 370.4L1783.3 366.6L1786.1 363.7L1788.8 361.3L1791.6 359.3L1794.4 357.6L1797.1 356.2L1799.9 355.0L1802.6 353.9L1805.4 353.1L1808.1 352.3L1810.9 351.6L1813.6 350.9L1816.4 350.3L1819.1 349.8L1821.9 349.2L1824.6 348.8L1827.4 348.4L1830.2 348.0L1832.9 347.6L1835.7 347.3L1838.4 347.1L1841.2 346.8L1843.9 346.6L1846.7 346.4L1849.4 346.3L1852.2 346.2" stroke="#00BE6D"/>
<path d="M1758.6 490.8L1761.3 470.3L1764.1 447.2L1766.8 420.5L1769.6 400.3L1772.3 387.6L1775.1 378.6L1777.8 372.3L1780.6 368.4L1783.3 366.1L1786.1 364.5L1788.8 363.1L1791.6 361.9L1794.4 360.8L1797.1 359.8L1799.9 358.8L1802.6 357.8L1805.4 356.9L1808.1 356.0L1810.9 355.2L1813.6 354.4L1816.4 353.7L1819.1 353.1L1821.9 352.6L1824.6 352.1L1827.4 351.7L1830.2 351.3L1832.9 350.9L1835.7 350.6L1838.4 350.2L1841.2 349.9L1843.9 349.6L1846.7 349.4L1849.4 349.1L1852.2 348.9L1854.9 348.7L1857.7 348.5L1860.5 348.3L1863.2 348.1L1866.0 347.9L1868.7 347.8L1871.5 347.6L1874.2 347.5L1877.0 347.4L1879.7 347.3" stroke="#00C094"/>
<path d="M1758.6 509.9L1761.3 499.1L1764.1 484.8L1766.8 472.3L1769.6 461.8L1772.3 452.8L1775.1 442.8L1777.8 431.5L1780.6 421.8L1783.3 413.8L1786.1 406.7L1788.8 400.2L1791.6 394.2L1794.4 388.5L1797.1 383.0L1799.9 378.1L1802.6 374.1L1805.4 370.7L1808.1 367.8L1810.9 365.4L1813.6 363.7L1816.4 362.2L1819.1 360.8L1821.9 359.6L1824.6 358.4L1827.4 357.4L1830.2 356.5L1832.9 355.7L1835.7 354.9L1838.4 354.3L1841.2 353.7L1843.9 353.2L1846.7 352.8L1849.4 352.4L1852.2 352.1L1854.9 351.8L1857.7 351.6L1860.5 351.3L1863.2 351.1L1866.0 350.8L1868.7 350.6L1871.5 350.4L1874.2 350.2L1877.0 350.0L1879.7 349.8L1882.5 349.6L1885.2 349.5L1888.0 349.3L1890.7 349.1L1893.5 349.0L1896.3 348.8L1899.0 348.7L1901.8 348.6L1904.5 348.4L1907.3 348.3L1910.0 348.2L1912.8 348.1L1915.5 348.0L1918.3 347.9L1921.0 347.8L1923.8 347.7L1926.5 347.6L1929.3 347.5L1932.1 347.4L1934.8 347.3L1937.6 347.2L1940.3 347.2L1943.1 347.1L1945.8 347.0L1948.6 347.0L1951.3 346.9L1954.1 346.9L1956.8 346.8L1959.6 346.7L1962.3 346.7L1965.1 346.7L1967.9 346.6L1970.6 346.6L1973.4 346.5L1976.1 346.5L1978.9 346.5L1981.6 346.4L1984.4 346.4L1987.1 346.4L1989.9 346.3L1992.6 346.3L1995.4 346.3L1998.2 346.3L2000.9 346.3L2003.7 346.2L2006.4 346.2L2009.2 346.2L2011.9 346.2L2014.7 346.2L2017.4 346.2L2020.2 346.2L2022.9 346.2L2025.7 346.2L2028.4 346.2L2031.2 346.2" stroke="#00BDD2"/>
<path d="M1758.6 511.8L1761.3 497.9L1764.1 480.2L1766.8 465.2L1769.6 453.0L1772.3 439.7L1775.1 426.0L1777.8 416.1L1780.6 408.0L1783.3 401.1L1786.1 395.1L1788.8 389.8L1791.6 385.0L1794.4 380.7L1797.1 377.0L1799.9 374.1L1802.6 371.7L1805.4 369.7L1808.1 368.0L1810.9 366.4L1813.6 365.1L1816.4 363.8L1819.1 362.5L1821.9 361.3L1824.6 360.2L1827.4 359.1L1830.2 358.1L1832.9 357.2L1835.7 356.4L1838.4 355.6L1841.2 354.9L1843.9 354.4L1846.7 353.8L1849.4 353.4L1852.2 353.1L1854.9 352.7L1857.7 352.4L1860.5 352.1L1863.2 351.9L1866.0 351.6L1868.7 351.3L1871.5 351.1L1874.2 350.9L1877.0 350.6L1879.7 350.4L1882.5 350.2L1885.2 350.0L1888.0 349.8L1890.7 349.6L1893.5 349.4L1896.3 349.2L1899.0 349.1L1901.8 348.9L1904.5 348.8L1907.3 348.6L1910.0 348.5L1912.8 348.3L1915.5 348.2L1918.3 348.1L1921.0 347.9L1923.8 347.8L1926.5 347.7L1929.3 347.6L1932.1 347.5L1934.8 347.4L1937.6 347.3L1940.3 347.2L1943.1 347.1L1945.8 347.1L1948.6 347.0L1951.3 346.9L1954.1 346.8L1956.8 346.8L1959.6 346.7L1962.3 346.6L1965.1 346.6L1967.9 346.5L1970.6 346.5L1973.4 346.4L1976.1 346.4L1978.9 346.3L1981.6 346.3L1984.4 346.3L1987.1 346.2L1989.9 346.2L1992.6 346.2L1995.4 346.1L1998.2 346.1L2000.9 346.1L2003.7 346.1L2006.4 346.0L2009.2 346.0L2011.9 346.0L2014.7 346.0L2017.4 346.0L2020.2 346.0L2022.9 346.0L2025.7 346.0L2028.4 346.0L2031.2 346.0" stroke="#00ABFD"/>
<path d="M1758.6 460.2L1761.3 393.2L1764.1 374.1L1766.8 366.8L1769.6 362.6L1772.3 359.7L1775.1 357.5L1777.8 355.9L1780.6 354.6L1783.3 353.5L1786.1 352.6L1788.8 351.8L1791.6 351.1L1794.4 350.6L1797.1 350.2L1799.9 349.8L1802.6 349.5L1805.4 349.2L1808.1 349.0L1810.9 348.8L1813.6 348.5L1816.4 348.4L1819.1 348.2L1821.9 348.0L1824.6 347.9L1827.4 347.8L1830.2 347.6L1832.9 347.5L1835.7 347.4L1838.4 347.3L1841.2 347.2L1843.9 347.1L1846.7 347.0L1849.4 347.0L1852.2 346.9L1854.9 346.8L1857.7 346.7L1860.5 346.6L1863.2 346.6L1866.0 346.5L1868.7 346.4L1871.5 346.4L1874.2 346.3L1877.0 346.3L1879.7 346.2L1882.5 346.2L1885.2 346.1L1888.0 346.1L1890.7 346.0L1893.5 346.0L1896.3 345.9L1899.0 345.9L1901.8 345.9L1904.5 345.8L1907.3 345.8L1910.0 345.7L1912.8 345.7L1915.5 345.7L1918.3 345.7L1921.0 345.6L1923.8 345.6L1926.5 345.6L1929.3 345.5L1932.1 345.5L1934.8 345.5L1937.6 345.5L1940.3 345.5L1943.1 345.4L1945.8 345.4L1948.6 345.4" stroke="#A58AFF"/>
<path d="M1758.6 483.1L1761.3 412.4L1764.1 379.8L1766.8 365.9L1769.6 358.8L1772.3 355.2L1775.1 352.8L1777.8 351.1L1780.6 349.8L1783.3 348.7L1786.1 347.9L1788.8 347.3L1791.6 346.9L1794.4 346.5L1797.1 346.2L1799.9 345.9L1802.6 345.7L1805.4 345.5L1808.1 345.4L1810.9 345.4L1813.6 345.4L1816.4 345.4L1819.1 345.4L1821.9 345.4L1824.6 345.4L1827.4 345.4L1830.2 345.4L1832.9 345.4L1835.7 345.4L1838.4 345.4L1841.2 345.4L1843.9 345.4L1846.7 345.4L1849.4 345.4L1852.2 345.4L1854.9 345.4L1857.7 345.4L1860.5 345.4" stroke="#D078FF"/>
<path d="M1758.6 485.0L1761.3 374.1L1764.1 355.0L1766.8 349.3L1769.6 347.3L1772.3 346.9L1775.1 346.6L1777.8 346.3L1780.6 346.2L1783.3 346.0L1786.1 345.9L1788.8 345.8L1791.6 345.7L1794.4 345.7L1797.1 345.6L1799.9 345.6L1802.6 345.5L1805.4 345.5L1808.1 345.5L1810.9 345.5L1813.6 345.4L1816.4 345.4L1819.1 345.4L1821.9 345.4L1824.6 345.4L1827.4 345.4L1830.2 345.4" stroke="#EC69EF"/>
<path d="M1758.6 479.3L1761.3 418.1L1764.1 364.5L1766.8 353.1L1769.6 349.2L1772.3 347.3L1775.1 346.3L1777.8 345.6L1780.6 345.4" stroke="#EC69EF"/>
<path d="M1758.6 450.6L1761.3 393.2L1764.1 358.8L1766.8 350.2L1769.6 347.4L1772.3 345.9L1775.1 345.4" stroke="#FB61D7"/>
<path d="M1758.6 431.5L1761.3 364.5L1764.1 351.1L1766.8 347.6L1769.6 346.4L1772.3 346.0L1775.1 345.8L1777.8 345.7L1780.6 345.5L1783.3 345.5L1786.1 345.4L1788.8 345.4L1791.6 345.4" stroke="#FF63B9"/>
<path d="M1758.6 488.9L1761.3 441.0L1764.1 383.7L1766.8 357.0L1769.6 350.2L1772.3 348.1L1775.1 347.0L1777.8 346.4L1780.6 345.9L1783.3 345.6L1786.1 345.5L1788.8 345.4" stroke="#FF63B9"/>
<path d="M1758.6 418.1L1761.3 358.8L1764.1 348.3L1766.8 346.4L1769.6 345.6L1772.3 345.4" stroke="#FF63B9"/>
<path d="M1758.6 479.3L1761.3 418.1L1764.1 387.5L1766.8 372.2L1769.6 366.8L1772.3 361.8L1775.1 356.9L1777.8 353.9L1780.6 351.7L1783.3 350.2L1786.1 349.1L1788.8 348.1L1791.6 347.2L1794.4 346.6L1797.1 346.0L1799.9 345.7L1802.6 345.5L1805.4 345.4L1808.1 345.4L1810.9 345.4L1813.6 345.4L1816.4 345.4L1819.1 345.4L1821.9 345.4" stroke="#FF6B96"/>
<line x1="1741.7" y1="364.53" x2="2045.4" y2="364.53" stroke="#000" stroke-width="3.0" stroke-dasharray="10.4 9.9"/>
</g>
<rect x="1741.7" y="336.3" width="303.7" height="1.4" fill="#2a2a2a"/>
<rect x="1741.7" y="532.7" width="303.7" height="1.8" fill="#2a2a2a"/>
<rect x="1741.7" y="336.3" width="1.8" height="198.2" fill="#2a2a2a"/>
<rect x="2043.6" y="336.3" width="1.8" height="198.2" fill="#2a2a2a"/>
<line x1="1755.8" y1="534.5" x2="1755.8" y2="541.3" stroke="#2a2a2a" stroke-width="2.9"/>
<text x="1755.8" y="561.8" font-size="21.4" fill="#4d4d4d" text-anchor="middle">0</text>
<line x1="1824.65" y1="534.5" x2="1824.65" y2="541.3" stroke="#2a2a2a" stroke-width="2.9"/>
<text x="1824.65" y="561.8" font-size="21.4" fill="#4d4d4d" text-anchor="middle">25</text>
<line x1="1893.5" y1="534.5" x2="1893.5" y2="541.3" stroke="#2a2a2a" stroke-width="2.9"/>
<text x="1893.5" y="561.8" font-size="21.4" fill="#4d4d4d" text-anchor="middle">50</text>
<line x1="1962.35" y1="534.5" x2="1962.35" y2="541.3" stroke="#2a2a2a" stroke-width="2.9"/>
<text x="1962.35" y="561.8" font-size="21.4" fill="#4d4d4d" text-anchor="middle">75</text>
<line x1="2031.2" y1="534.5" x2="2031.2" y2="541.3" stroke="#2a2a2a" stroke-width="2.9"/>
<text x="2031.2" y="561.8" font-size="21.4" fill="#4d4d4d" text-anchor="middle">100</text>
<text x="1577.8" y="590.6" font-size="26.25" fill="#000" text-anchor="middle">Alleles ordered by increasing allele frequency</text>
<text transform="translate(1056.5,310.3) rotate(-90)" font-size="26.25" fill="#000" text-anchor="middle">Allele frequency cumulative sum</text>
</svg>
</body></html>
